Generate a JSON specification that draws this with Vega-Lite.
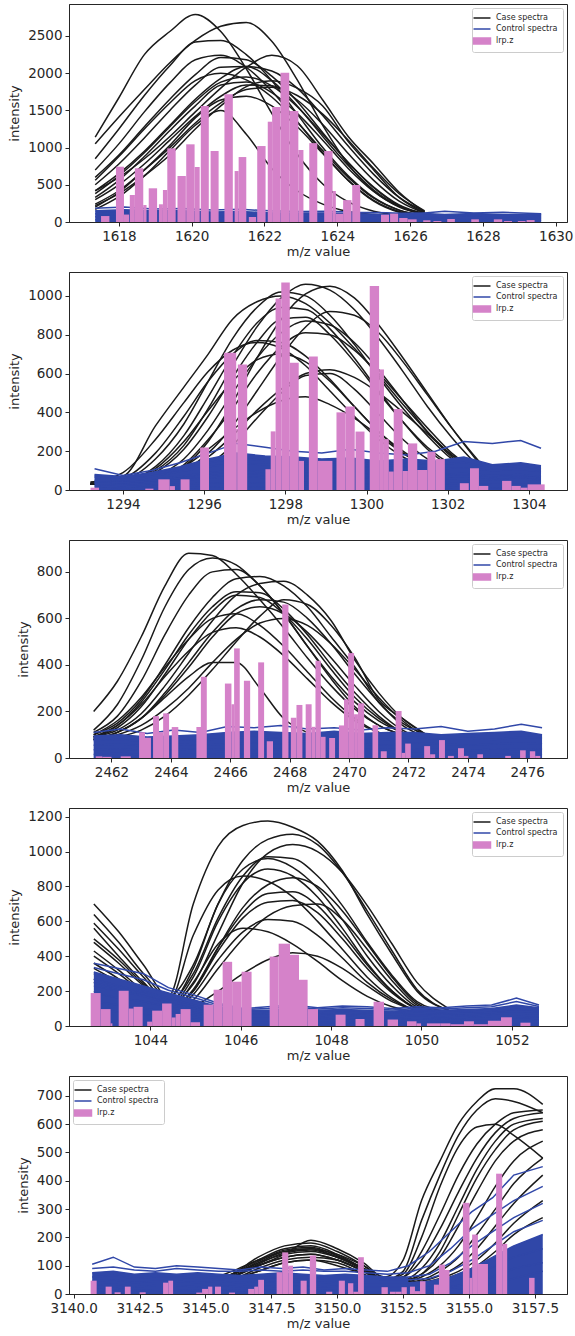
{
"$schema": "https://vega.github.io/schema/vega-lite/v6.json",
"padding": {"left": 8, "top": 3, "right": 0, "bottom": 0},
"spacing": 50,
"bounds": "flush",
"resolve": {"scale": {"color": "independent"}, "legend": {"color": "independent"}},
"config": {
 "view": {"stroke": "#262626", "strokeWidth": 1},
 "axis": {"labelFont": "DejaVu Sans", "labelFontSize": 13.5, "labelColor": "#262626", "titleFont": "DejaVu Sans", "titleFontSize": 13, "titleFontWeight": "normal", "titleColor": "#262626", "tickColor": "#262626", "domainColor": "#262626", "grid": false, "tickSize": 4, "labelFlush": false, "labelOverlap": false},
 "axisX": {"labelPadding": 3, "titlePadding": 3},
 "axisY": {"labelPadding": 3, "titlePadding": 6},
 "legend": {"orient": "top-right", "offset": 4, "title": null, "fillColor": "rgba(255,255,255,0.85)", "strokeColor": "#cccccc", "cornerRadius": 2, "padding": 5, "labelFont": "DejaVu Sans", "labelFontSize": 8, "labelColor": "#262626", "symbolType": "M-2,0H2", "symbolSize": 72, "symbolStrokeWidth": 1.5, "rowPadding": 2, "labelOffset": 9}
},
"datasets": {
"k1": [
{"s":1,"x":1617.35,"y":1140},{"s":1,"x":1618.0,"y":1670},{"s":1,"x":1618.7,"y":2250},{"s":1,"x":1619.4,"y":2560},{"s":1,"x":1620.1,"y":2790},{"s":1,"x":1620.8,"y":2560},{"s":1,"x":1621.5,"y":2060},{"s":1,"x":1622.2,"y":1460},{"s":1,"x":1622.9,"y":910},{"s":1,"x":1623.6,"y":510},{"s":1,"x":1624.3,"y":270},{"s":1,"x":1625.0,"y":145},{"s":1,"x":1625.7,"y":90},{"s":1,"x":1626.4,"y":68},
{"s":2,"x":1617.35,"y":1050},{"s":2,"x":1618.0,"y":1410},{"s":2,"x":1618.7,"y":1780},{"s":2,"x":1619.4,"y":2140},{"s":2,"x":1620.1,"y":2440},{"s":2,"x":1620.8,"y":2630},{"s":2,"x":1621.5,"y":2680},{"s":2,"x":1622.2,"y":2430},{"s":2,"x":1622.9,"y":1910},{"s":2,"x":1623.6,"y":1300},{"s":2,"x":1624.3,"y":775},{"s":2,"x":1625.0,"y":415},{"s":2,"x":1625.7,"y":210},{"s":2,"x":1626.4,"y":115},
{"s":3,"x":1617.35,"y":850},{"s":3,"x":1618.0,"y":1250},{"s":3,"x":1618.7,"y":1700},{"s":3,"x":1619.4,"y":2100},{"s":3,"x":1620.1,"y":2420},{"s":3,"x":1620.8,"y":2440},{"s":3,"x":1621.5,"y":2250},{"s":3,"x":1622.2,"y":1900},{"s":3,"x":1622.9,"y":1450},{"s":3,"x":1623.6,"y":1000},{"s":3,"x":1624.3,"y":620},{"s":3,"x":1625.0,"y":330},{"s":3,"x":1625.7,"y":160},{"s":3,"x":1626.4,"y":90},
{"s":4,"x":1617.35,"y":600},{"s":4,"x":1618.0,"y":900},{"s":4,"x":1618.7,"y":1280},{"s":4,"x":1619.4,"y":1650},{"s":4,"x":1620.1,"y":1980},{"s":4,"x":1620.8,"y":2210},{"s":4,"x":1621.5,"y":2180},{"s":4,"x":1622.2,"y":1960},{"s":4,"x":1622.9,"y":1620},{"s":4,"x":1623.6,"y":1200},{"s":4,"x":1624.3,"y":800},{"s":4,"x":1625.0,"y":470},{"s":4,"x":1625.7,"y":230},{"s":4,"x":1626.4,"y":110},
{"s":5,"x":1617.35,"y":420},{"s":5,"x":1618.0,"y":650},{"s":5,"x":1618.7,"y":950},{"s":5,"x":1619.4,"y":1300},{"s":5,"x":1620.1,"y":1650},{"s":5,"x":1620.8,"y":1930},{"s":5,"x":1621.5,"y":2090},{"s":5,"x":1622.2,"y":2030},{"s":5,"x":1622.9,"y":1800},{"s":5,"x":1623.6,"y":1430},{"s":5,"x":1624.3,"y":1020},{"s":5,"x":1625.0,"y":640},{"s":5,"x":1625.7,"y":330},{"s":5,"x":1626.4,"y":140},
{"s":6,"x":1617.35,"y":560},{"s":6,"x":1618.0,"y":880},{"s":6,"x":1618.7,"y":1250},{"s":6,"x":1619.4,"y":1600},{"s":6,"x":1620.1,"y":1900},{"s":6,"x":1620.8,"y":2000},{"s":6,"x":1621.5,"y":1910},{"s":6,"x":1622.2,"y":1680},{"s":6,"x":1622.9,"y":1340},{"s":6,"x":1623.6,"y":960},{"s":6,"x":1624.3,"y":600},{"s":6,"x":1625.0,"y":320},{"s":6,"x":1625.7,"y":160},{"s":6,"x":1626.4,"y":90},
{"s":7,"x":1617.35,"y":330},{"s":7,"x":1618.0,"y":560},{"s":7,"x":1618.7,"y":880},{"s":7,"x":1619.4,"y":1230},{"s":7,"x":1620.1,"y":1560},{"s":7,"x":1620.8,"y":1840},{"s":7,"x":1621.5,"y":1880},{"s":7,"x":1622.2,"y":1740},{"s":7,"x":1622.9,"y":1460},{"s":7,"x":1623.6,"y":1100},{"s":7,"x":1624.3,"y":720},{"s":7,"x":1625.0,"y":410},{"s":7,"x":1625.7,"y":200},{"s":7,"x":1626.4,"y":100},
{"s":8,"x":1617.35,"y":240},{"s":8,"x":1618.0,"y":420},{"s":8,"x":1618.7,"y":700},{"s":8,"x":1619.4,"y":1000},{"s":8,"x":1620.1,"y":1330},{"s":8,"x":1620.8,"y":1600},{"s":8,"x":1621.5,"y":1780},{"s":8,"x":1622.2,"y":1810},{"s":8,"x":1622.9,"y":1700},{"s":8,"x":1623.6,"y":1450},{"s":8,"x":1624.3,"y":1100},{"s":8,"x":1625.0,"y":720},{"s":8,"x":1625.7,"y":380},{"s":8,"x":1626.4,"y":150},
{"s":9,"x":1617.35,"y":200},{"s":9,"x":1618.0,"y":400},{"s":9,"x":1618.7,"y":700},{"s":9,"x":1619.4,"y":1030},{"s":9,"x":1620.1,"y":1400},{"s":9,"x":1620.8,"y":1640},{"s":9,"x":1621.5,"y":1690},{"s":9,"x":1622.2,"y":1560},{"s":9,"x":1622.9,"y":1280},{"s":9,"x":1623.6,"y":920},{"s":9,"x":1624.3,"y":560},{"s":9,"x":1625.0,"y":280},{"s":9,"x":1625.7,"y":130},{"s":9,"x":1626.4,"y":80},
{"s":10,"x":1617.35,"y":170},{"s":10,"x":1618.0,"y":340},{"s":10,"x":1618.7,"y":620},{"s":10,"x":1619.4,"y":960},{"s":10,"x":1620.1,"y":1300},{"s":10,"x":1620.8,"y":1500},{"s":10,"x":1621.5,"y":1180},{"s":10,"x":1622.2,"y":720},{"s":10,"x":1622.9,"y":420},{"s":10,"x":1623.6,"y":240},{"s":10,"x":1624.3,"y":140},{"s":10,"x":1625.0,"y":100},{"s":10,"x":1625.7,"y":80},{"s":10,"x":1626.4,"y":70},
{"s":11,"x":1617.35,"y":420},{"s":11,"x":1618.0,"y":600},{"s":11,"x":1618.7,"y":850},{"s":11,"x":1619.4,"y":1150},{"s":11,"x":1620.1,"y":1480},{"s":11,"x":1620.8,"y":1800},{"s":11,"x":1621.5,"y":2080},{"s":11,"x":1622.2,"y":2240},{"s":11,"x":1622.9,"y":2100},{"s":11,"x":1623.6,"y":1640},{"s":11,"x":1624.3,"y":1150},{"s":11,"x":1625.0,"y":780},{"s":11,"x":1625.7,"y":400},{"s":11,"x":1626.4,"y":130},
{"s":12,"x":1617.35,"y":220},{"s":12,"x":1618.0,"y":380},{"s":12,"x":1618.7,"y":620},{"s":12,"x":1619.4,"y":900},{"s":12,"x":1620.1,"y":1250},{"s":12,"x":1620.8,"y":1560},{"s":12,"x":1621.5,"y":1820},{"s":12,"x":1622.2,"y":1900},{"s":12,"x":1622.9,"y":1800},{"s":12,"x":1623.6,"y":1560},{"s":12,"x":1624.3,"y":1080},{"s":12,"x":1625.0,"y":700},{"s":12,"x":1625.7,"y":330},{"s":12,"x":1626.4,"y":120},
{"s":13,"x":1617.35,"y":500},{"s":13,"x":1618.0,"y":780},{"s":13,"x":1618.7,"y":1130},{"s":13,"x":1619.4,"y":1500},{"s":13,"x":1620.1,"y":1840},{"s":13,"x":1620.8,"y":2080},{"s":13,"x":1621.5,"y":2090},{"s":13,"x":1622.2,"y":1900},{"s":13,"x":1622.9,"y":1560},{"s":13,"x":1623.6,"y":1150},{"s":13,"x":1624.3,"y":760},{"s":13,"x":1625.0,"y":430},{"s":13,"x":1625.7,"y":210},{"s":13,"x":1626.4,"y":100},
{"s":14,"x":1617.35,"y":380},{"s":14,"x":1618.0,"y":620},{"s":14,"x":1618.7,"y":930},{"s":14,"x":1619.4,"y":1280},{"s":14,"x":1620.1,"y":1620},{"s":14,"x":1620.8,"y":1880},{"s":14,"x":1621.5,"y":1950},{"s":14,"x":1622.2,"y":1830},{"s":14,"x":1622.9,"y":1550},{"s":14,"x":1623.6,"y":1180},{"s":14,"x":1624.3,"y":800},{"s":14,"x":1625.0,"y":460},{"s":14,"x":1625.7,"y":220},{"s":14,"x":1626.4,"y":100},
{"s":15,"x":1617.35,"y":700},{"s":15,"x":1618.0,"y":1050},{"s":15,"x":1618.7,"y":1480},{"s":15,"x":1619.4,"y":1870},{"s":15,"x":1620.1,"y":2180},{"s":15,"x":1620.8,"y":2240},{"s":15,"x":1621.5,"y":2080},{"s":15,"x":1622.2,"y":1760},{"s":15,"x":1622.9,"y":1350},{"s":15,"x":1623.6,"y":930},{"s":15,"x":1624.3,"y":560},{"s":15,"x":1625.0,"y":290},{"s":15,"x":1625.7,"y":140},{"s":15,"x":1626.4,"y":80},
{"s":16,"x":1617.35,"y":300},{"s":16,"x":1618.0,"y":500},{"s":16,"x":1618.7,"y":780},{"s":16,"x":1619.4,"y":1100},{"s":16,"x":1620.1,"y":1420},{"s":16,"x":1620.8,"y":1690},{"s":16,"x":1621.5,"y":1840},{"s":16,"x":1622.2,"y":1830},{"s":16,"x":1622.9,"y":1640},{"s":16,"x":1623.6,"y":1310},{"s":16,"x":1624.3,"y":920},{"s":16,"x":1625.0,"y":560},{"s":16,"x":1625.7,"y":280},{"s":16,"x":1626.4,"y":120}
],
"c1": [
{"s":1,"x":1617.35,"y":185},{"s":1,"x":1618.15,"y":200},{"s":1,"x":1618.95,"y":175},{"s":1,"x":1619.75,"y":180},{"s":1,"x":1620.55,"y":160},{"s":1,"x":1621.35,"y":170},{"s":1,"x":1622.15,"y":150},{"s":1,"x":1622.95,"y":140},{"s":1,"x":1623.75,"y":145},{"s":1,"x":1624.55,"y":130},{"s":1,"x":1625.35,"y":125},{"s":1,"x":1626.15,"y":110},{"s":1,"x":1626.95,"y":145},{"s":1,"x":1627.75,"y":120},{"s":1,"x":1628.55,"y":130},{"s":1,"x":1629.6,"y":110},
{"s":2,"x":1617.35,"y":150},{"s":2,"x":1618.15,"y":165},{"s":2,"x":1618.95,"y":150},{"s":2,"x":1619.75,"y":150},{"s":2,"x":1620.55,"y":135},{"s":2,"x":1621.35,"y":140},{"s":2,"x":1622.15,"y":125},{"s":2,"x":1622.95,"y":120},{"s":2,"x":1623.75,"y":120},{"s":2,"x":1624.55,"y":110},{"s":2,"x":1625.35,"y":100},{"s":2,"x":1626.15,"y":120},{"s":2,"x":1626.95,"y":100},{"s":2,"x":1627.75,"y":115},{"s":2,"x":1628.55,"y":100},{"s":2,"x":1629.6,"y":105},
{"s":3,"x":1617.35,"y":110},{"s":3,"x":1618.15,"y":120},{"s":3,"x":1618.95,"y":105},{"s":3,"x":1619.75,"y":115},{"s":3,"x":1620.55,"y":100},{"s":3,"x":1621.35,"y":95},{"s":3,"x":1622.15,"y":95},{"s":3,"x":1622.95,"y":90},{"s":3,"x":1623.75,"y":85},{"s":3,"x":1624.55,"y":90},{"s":3,"x":1625.35,"y":80},{"s":3,"x":1626.15,"y":85},{"s":3,"x":1626.95,"y":85},{"s":3,"x":1627.75,"y":80},{"s":3,"x":1628.55,"y":90},{"s":3,"x":1629.6,"y":80},
{"s":4,"x":1617.35,"y":70},{"s":4,"x":1618.15,"y":75},{"s":4,"x":1618.95,"y":70},{"s":4,"x":1619.75,"y":65},{"s":4,"x":1620.55,"y":70},{"s":4,"x":1621.35,"y":60},{"s":4,"x":1622.15,"y":65},{"s":4,"x":1622.95,"y":55},{"s":4,"x":1623.75,"y":60},{"s":4,"x":1624.55,"y":55},{"s":4,"x":1625.35,"y":60},{"s":4,"x":1626.15,"y":50},{"s":4,"x":1626.95,"y":55},{"s":4,"x":1627.75,"y":60},{"s":4,"x":1628.55,"y":50},{"s":4,"x":1629.6,"y":55},
{"s":5,"x":1617.35,"y":30},{"s":5,"x":1618.15,"y":35},{"s":5,"x":1618.95,"y":25},{"s":5,"x":1619.75,"y":30},{"s":5,"x":1620.55,"y":30},{"s":5,"x":1621.35,"y":25},{"s":5,"x":1622.15,"y":30},{"s":5,"x":1622.95,"y":25},{"s":5,"x":1623.75,"y":30},{"s":5,"x":1624.55,"y":20},{"s":5,"x":1625.35,"y":25},{"s":5,"x":1626.15,"y":30},{"s":5,"x":1626.95,"y":20},{"s":5,"x":1627.75,"y":25},{"s":5,"x":1628.55,"y":30},{"s":5,"x":1629.6,"y":25}
],
"b1": [
{"x":1617.51,"x2":1617.74,"y":80},{"x":1617.92,"x2":1618.14,"y":743},{"x":1618.14,"x2":1618.28,"y":100},{"x":1618.30,"x2":1618.44,"y":363},{"x":1618.44,"x2":1618.67,"y":722},{"x":1618.67,"x2":1618.76,"y":228},{"x":1618.82,"x2":1619.05,"y":453},{"x":1619.10,"x2":1619.21,"y":238},{"x":1619.21,"x2":1619.33,"y":430},{"x":1619.33,"x2":1619.56,"y":990},{"x":1619.61,"x2":1619.84,"y":618},{"x":1619.85,"x2":1620.08,"y":1044},{"x":1620.08,"x2":1620.22,"y":739},{"x":1620.25,"x2":1620.47,"y":1559},{"x":1620.52,"x2":1620.74,"y":954},{"x":1620.90,"x2":1621.13,"y":1716},{"x":1621.18,"x2":1621.29,"y":685},{"x":1621.29,"x2":1621.50,"y":873},{"x":1621.57,"x2":1621.77,"y":67},{"x":1621.80,"x2":1622.03,"y":1021},{"x":1622.09,"x2":1622.21,"y":1348},{"x":1622.21,"x2":1622.44,"y":1546},{"x":1622.44,"x2":1622.68,"y":2007},{"x":1622.68,"x2":1622.93,"y":1492},{"x":1622.93,"x2":1623.07,"y":968},{"x":1623.23,"x2":1623.45,"y":1060},{"x":1623.64,"x2":1623.87,"y":954},{"x":1623.87,"x2":1623.96,"y":417},{"x":1623.96,"x2":1624.16,"y":110},{"x":1624.16,"x2":1624.39,"y":294},{"x":1624.41,"x2":1624.63,"y":497},{"x":1625.20,"x2":1625.42,"y":98},{"x":1625.45,"x2":1625.67,"y":112},{"x":1625.70,"x2":1625.93,"y":54},{"x":1625.93,"x2":1626.18,"y":36},{"x":1626.36,"x2":1626.56,"y":23},{"x":1626.64,"x2":1626.86,"y":13},{"x":1627.02,"x2":1627.23,"y":40},{"x":1627.68,"x2":1627.89,"y":36},{"x":1628.30,"x2":1628.53,"y":36},{"x":1628.58,"x2":1628.80,"y":13},{"x":1628.96,"x2":1629.17,"y":13},{"x":1629.20,"x2":1629.42,"y":26}
],
"k2": [
{"s":1,"x":1293.2,"y":40},{"s":1,"x":1294.0,"y":70},{"s":1,"x":1294.8,"y":330},{"s":1,"x":1295.5,"y":530},{"s":1,"x":1296.1,"y":700},{"s":1,"x":1296.7,"y":880},{"s":1,"x":1297.3,"y":970},{"s":1,"x":1297.9,"y":1000},{"s":1,"x":1298.5,"y":960},{"s":1,"x":1299.1,"y":860},{"s":1,"x":1299.7,"y":730},{"s":1,"x":1300.3,"y":590},{"s":1,"x":1300.9,"y":440},{"s":1,"x":1301.5,"y":300},{"s":1,"x":1302.1,"y":180},{"s":1,"x":1302.8,"y":80},
{"s":2,"x":1293.2,"y":30},{"s":2,"x":1294.0,"y":40},{"s":2,"x":1294.8,"y":100},{"s":2,"x":1295.5,"y":230},{"s":2,"x":1296.1,"y":420},{"s":2,"x":1296.7,"y":640},{"s":2,"x":1297.3,"y":840},{"s":2,"x":1297.9,"y":990},{"s":2,"x":1298.5,"y":1060},{"s":2,"x":1299.1,"y":1030},{"s":2,"x":1299.7,"y":930},{"s":2,"x":1300.3,"y":780},{"s":2,"x":1300.9,"y":610},{"s":2,"x":1301.5,"y":430},{"s":2,"x":1302.1,"y":270},{"s":2,"x":1302.8,"y":110},
{"s":3,"x":1293.2,"y":30},{"s":3,"x":1294.0,"y":30},{"s":3,"x":1294.8,"y":60},{"s":3,"x":1295.5,"y":120},{"s":3,"x":1296.1,"y":250},{"s":3,"x":1296.7,"y":450},{"s":3,"x":1297.3,"y":680},{"s":3,"x":1297.9,"y":880},{"s":3,"x":1298.5,"y":1010},{"s":3,"x":1299.1,"y":1050},{"s":3,"x":1299.7,"y":990},{"s":3,"x":1300.3,"y":850},{"s":3,"x":1300.9,"y":680},{"s":3,"x":1301.5,"y":500},{"s":3,"x":1302.1,"y":320},{"s":3,"x":1302.8,"y":130},
{"s":4,"x":1293.2,"y":30},{"s":4,"x":1294.0,"y":40},{"s":4,"x":1294.8,"y":90},{"s":4,"x":1295.5,"y":210},{"s":4,"x":1296.1,"y":380},{"s":4,"x":1296.7,"y":580},{"s":4,"x":1297.3,"y":760},{"s":4,"x":1297.9,"y":880},{"s":4,"x":1298.5,"y":890},{"s":4,"x":1299.1,"y":800},{"s":4,"x":1299.7,"y":660},{"s":4,"x":1300.3,"y":500},{"s":4,"x":1300.9,"y":350},{"s":4,"x":1301.5,"y":220},{"s":4,"x":1302.1,"y":130},{"s":4,"x":1302.8,"y":70},
{"s":5,"x":1293.2,"y":30},{"s":5,"x":1294.0,"y":30},{"s":5,"x":1294.8,"y":60},{"s":5,"x":1295.5,"y":130},{"s":5,"x":1296.1,"y":260},{"s":5,"x":1296.7,"y":420},{"s":5,"x":1297.3,"y":600},{"s":5,"x":1297.9,"y":740},{"s":5,"x":1298.5,"y":810},{"s":5,"x":1299.1,"y":800},{"s":5,"x":1299.7,"y":720},{"s":5,"x":1300.3,"y":600},{"s":5,"x":1300.9,"y":460},{"s":5,"x":1301.5,"y":320},{"s":5,"x":1302.1,"y":190},{"s":5,"x":1302.8,"y":90},
{"s":6,"x":1293.2,"y":30},{"s":6,"x":1294.0,"y":40},{"s":6,"x":1294.8,"y":110},{"s":6,"x":1295.5,"y":250},{"s":6,"x":1296.1,"y":410},{"s":6,"x":1296.7,"y":560},{"s":6,"x":1297.3,"y":670},{"s":6,"x":1297.9,"y":700},{"s":6,"x":1298.5,"y":660},{"s":6,"x":1299.1,"y":560},{"s":6,"x":1299.7,"y":430},{"s":6,"x":1300.3,"y":300},{"s":6,"x":1300.9,"y":200},{"s":6,"x":1301.5,"y":120},{"s":6,"x":1302.1,"y":80},{"s":6,"x":1302.8,"y":60},
{"s":7,"x":1293.2,"y":30},{"s":7,"x":1294.0,"y":30},{"s":7,"x":1294.8,"y":50},{"s":7,"x":1295.5,"y":90},{"s":7,"x":1296.1,"y":170},{"s":7,"x":1296.7,"y":280},{"s":7,"x":1297.3,"y":410},{"s":7,"x":1297.9,"y":520},{"s":7,"x":1298.5,"y":600},{"s":7,"x":1299.1,"y":620},{"s":7,"x":1299.7,"y":580},{"s":7,"x":1300.3,"y":500},{"s":7,"x":1300.9,"y":400},{"s":7,"x":1301.5,"y":290},{"s":7,"x":1302.1,"y":180},{"s":7,"x":1302.8,"y":90},
{"s":8,"x":1293.2,"y":30},{"s":8,"x":1294.0,"y":30},{"s":8,"x":1294.8,"y":60},{"s":8,"x":1295.5,"y":120},{"s":8,"x":1296.1,"y":210},{"s":8,"x":1296.7,"y":310},{"s":8,"x":1297.3,"y":400},{"s":8,"x":1297.9,"y":460},{"s":8,"x":1298.5,"y":480},{"s":8,"x":1299.1,"y":440},{"s":8,"x":1299.7,"y":370},{"s":8,"x":1300.3,"y":280},{"s":8,"x":1300.9,"y":190},{"s":8,"x":1301.5,"y":120},{"s":8,"x":1302.1,"y":80},{"s":8,"x":1302.8,"y":60},
{"s":9,"x":1293.2,"y":30},{"s":9,"x":1294.0,"y":30},{"s":9,"x":1294.8,"y":50},{"s":9,"x":1295.5,"y":100},{"s":9,"x":1296.1,"y":190},{"s":9,"x":1296.7,"y":330},{"s":9,"x":1297.3,"y":510},{"s":9,"x":1297.9,"y":690},{"s":9,"x":1298.5,"y":840},{"s":9,"x":1299.1,"y":920},{"s":9,"x":1299.7,"y":900},{"s":9,"x":1300.3,"y":810},{"s":9,"x":1300.9,"y":660},{"s":9,"x":1301.5,"y":490},{"s":9,"x":1302.1,"y":320},{"s":9,"x":1302.8,"y":140},
{"s":10,"x":1293.2,"y":40},{"s":10,"x":1294.0,"y":90},{"s":10,"x":1294.8,"y":260},{"s":10,"x":1295.5,"y":450},{"s":10,"x":1296.1,"y":610},{"s":10,"x":1296.7,"y":720},{"s":10,"x":1297.3,"y":760},{"s":10,"x":1297.9,"y":730},{"s":10,"x":1298.5,"y":640},{"s":10,"x":1299.1,"y":510},{"s":10,"x":1299.7,"y":380},{"s":10,"x":1300.3,"y":260},{"s":10,"x":1300.9,"y":170},{"s":10,"x":1301.5,"y":110},{"s":10,"x":1302.1,"y":80},{"s":10,"x":1302.8,"y":60},
{"s":11,"x":1293.2,"y":30},{"s":11,"x":1294.0,"y":50},{"s":11,"x":1294.8,"y":160},{"s":11,"x":1295.5,"y":340},{"s":11,"x":1296.1,"y":560},{"s":11,"x":1296.7,"y":780},{"s":11,"x":1297.3,"y":940},{"s":11,"x":1297.9,"y":1020},{"s":11,"x":1298.5,"y":1000},{"s":11,"x":1299.1,"y":900},{"s":11,"x":1299.7,"y":750},{"s":11,"x":1300.3,"y":580},{"s":11,"x":1300.9,"y":420},{"s":11,"x":1301.5,"y":280},{"s":11,"x":1302.1,"y":160},{"s":11,"x":1302.8,"y":80},
{"s":12,"x":1293.2,"y":30},{"s":12,"x":1294.0,"y":30},{"s":12,"x":1294.8,"y":40},{"s":12,"x":1295.5,"y":70},{"s":12,"x":1296.1,"y":130},{"s":12,"x":1296.7,"y":230},{"s":12,"x":1297.3,"y":370},{"s":12,"x":1297.9,"y":500},{"s":12,"x":1298.5,"y":590},{"s":12,"x":1299.1,"y":600},{"s":12,"x":1299.7,"y":520},{"s":12,"x":1300.3,"y":390},{"s":12,"x":1300.9,"y":260},{"s":12,"x":1301.5,"y":160},{"s":12,"x":1302.1,"y":100},{"s":12,"x":1302.8,"y":60},
{"s":13,"x":1293.2,"y":30},{"s":13,"x":1294.0,"y":40},{"s":13,"x":1294.8,"y":120},{"s":13,"x":1295.5,"y":280},{"s":13,"x":1296.1,"y":480},{"s":13,"x":1296.7,"y":690},{"s":13,"x":1297.3,"y":860},{"s":13,"x":1297.9,"y":940},{"s":13,"x":1298.5,"y":930},{"s":13,"x":1299.1,"y":830},{"s":13,"x":1299.7,"y":680},{"s":13,"x":1300.3,"y":510},{"s":13,"x":1300.9,"y":350},{"s":13,"x":1301.5,"y":210},{"s":13,"x":1302.1,"y":120},{"s":13,"x":1302.8,"y":70},
{"s":14,"x":1293.2,"y":30},{"s":14,"x":1294.0,"y":30},{"s":14,"x":1294.8,"y":70},{"s":14,"x":1295.5,"y":160},{"s":14,"x":1296.1,"y":310},{"s":14,"x":1296.7,"y":500},{"s":14,"x":1297.3,"y":680},{"s":14,"x":1297.9,"y":810},{"s":14,"x":1298.5,"y":870},{"s":14,"x":1299.1,"y":850},{"s":14,"x":1299.7,"y":760},{"s":14,"x":1300.3,"y":620},{"s":14,"x":1300.9,"y":460},{"s":14,"x":1301.5,"y":300},{"s":14,"x":1302.1,"y":170},{"s":14,"x":1302.8,"y":80},
{"s":15,"x":1293.2,"y":35},{"s":15,"x":1294.0,"y":60},{"s":15,"x":1294.8,"y":190},{"s":15,"x":1295.5,"y":380},{"s":15,"x":1296.1,"y":560},{"s":15,"x":1296.7,"y":700},{"s":15,"x":1297.3,"y":770},{"s":15,"x":1297.9,"y":760},{"s":15,"x":1298.5,"y":690},{"s":15,"x":1299.1,"y":570},{"s":15,"x":1299.7,"y":430},{"s":15,"x":1300.3,"y":300},{"s":15,"x":1300.9,"y":190},{"s":15,"x":1301.5,"y":120},{"s":15,"x":1302.1,"y":80},{"s":15,"x":1302.8,"y":60}
],
"c2": [
{"s":1,"x":1293.3,"y":110},{"s":1,"x":1294.0,"y":75},{"s":1,"x":1294.7,"y":100},{"s":1,"x":1295.4,"y":140},{"s":1,"x":1296.1,"y":190},{"s":1,"x":1296.8,"y":240},{"s":1,"x":1297.5,"y":220},{"s":1,"x":1298.2,"y":200},{"s":1,"x":1298.9,"y":190},{"s":1,"x":1299.6,"y":210},{"s":1,"x":1300.3,"y":190},{"s":1,"x":1301.0,"y":180},{"s":1,"x":1301.7,"y":200},{"s":1,"x":1302.4,"y":250},{"s":1,"x":1303.1,"y":240},{"s":1,"x":1303.8,"y":255},{"s":1,"x":1304.3,"y":215},
{"s":2,"x":1293.3,"y":80},{"s":2,"x":1294.0,"y":70},{"s":2,"x":1294.7,"y":90},{"s":2,"x":1295.4,"y":120},{"s":2,"x":1296.1,"y":160},{"s":2,"x":1296.8,"y":190},{"s":2,"x":1297.5,"y":175},{"s":2,"x":1298.2,"y":170},{"s":2,"x":1298.9,"y":160},{"s":2,"x":1299.6,"y":165},{"s":2,"x":1300.3,"y":150},{"s":2,"x":1301.0,"y":160},{"s":2,"x":1301.7,"y":150},{"s":2,"x":1302.4,"y":170},{"s":2,"x":1303.1,"y":130},{"s":2,"x":1303.8,"y":140},{"s":2,"x":1304.3,"y":125},
{"s":3,"x":1293.3,"y":65},{"s":3,"x":1294.0,"y":60},{"s":3,"x":1294.7,"y":70},{"s":3,"x":1295.4,"y":95},{"s":3,"x":1296.1,"y":120},{"s":3,"x":1296.8,"y":140},{"s":3,"x":1297.5,"y":130},{"s":3,"x":1298.2,"y":135},{"s":3,"x":1298.9,"y":120},{"s":3,"x":1299.6,"y":125},{"s":3,"x":1300.3,"y":115},{"s":3,"x":1301.0,"y":120},{"s":3,"x":1301.7,"y":110},{"s":3,"x":1302.4,"y":115},{"s":3,"x":1303.1,"y":100},{"s":3,"x":1303.8,"y":105},{"s":3,"x":1304.3,"y":95},
{"s":4,"x":1293.3,"y":50},{"s":4,"x":1294.0,"y":45},{"s":4,"x":1294.7,"y":55},{"s":4,"x":1295.4,"y":70},{"s":4,"x":1296.1,"y":90},{"s":4,"x":1296.8,"y":100},{"s":4,"x":1297.5,"y":95},{"s":4,"x":1298.2,"y":100},{"s":4,"x":1298.9,"y":90},{"s":4,"x":1299.6,"y":95},{"s":4,"x":1300.3,"y":85},{"s":4,"x":1301.0,"y":90},{"s":4,"x":1301.7,"y":80},{"s":4,"x":1302.4,"y":85},{"s":4,"x":1303.1,"y":75},{"s":4,"x":1303.8,"y":80},{"s":4,"x":1304.3,"y":70},
{"s":5,"x":1293.3,"y":35},{"s":5,"x":1294.0,"y":30},{"s":5,"x":1294.7,"y":40},{"s":5,"x":1295.4,"y":50},{"s":5,"x":1296.1,"y":60},{"s":5,"x":1296.8,"y":70},{"s":5,"x":1297.5,"y":65},{"s":5,"x":1298.2,"y":70},{"s":5,"x":1298.9,"y":60},{"s":5,"x":1299.6,"y":65},{"s":5,"x":1300.3,"y":60},{"s":5,"x":1301.0,"y":60},{"s":5,"x":1301.7,"y":55},{"s":5,"x":1302.4,"y":60},{"s":5,"x":1303.1,"y":50},{"s":5,"x":1303.8,"y":55},{"s":5,"x":1304.3,"y":50},
{"s":6,"x":1293.3,"y":20},{"s":6,"x":1294.0,"y":15},{"s":6,"x":1294.7,"y":25},{"s":6,"x":1295.4,"y":30},{"s":6,"x":1296.1,"y":35},{"s":6,"x":1296.8,"y":40},{"s":6,"x":1297.5,"y":35},{"s":6,"x":1298.2,"y":40},{"s":6,"x":1298.9,"y":35},{"s":6,"x":1299.6,"y":35},{"s":6,"x":1300.3,"y":30},{"s":6,"x":1301.0,"y":35},{"s":6,"x":1301.7,"y":30},{"s":6,"x":1302.4,"y":35},{"s":6,"x":1303.1,"y":30},{"s":6,"x":1303.8,"y":30},{"s":6,"x":1304.3,"y":25},
{"s":7,"x":1293.3,"y":8},{"s":7,"x":1294.0,"y":5},{"s":7,"x":1294.7,"y":10},{"s":7,"x":1295.4,"y":12},{"s":7,"x":1296.1,"y":15},{"s":7,"x":1296.8,"y":18},{"s":7,"x":1297.5,"y":15},{"s":7,"x":1298.2,"y":20},{"s":7,"x":1298.9,"y":15},{"s":7,"x":1299.6,"y":15},{"s":7,"x":1300.3,"y":12},{"s":7,"x":1301.0,"y":15},{"s":7,"x":1301.7,"y":12},{"s":7,"x":1302.4,"y":15},{"s":7,"x":1303.1,"y":10},{"s":7,"x":1303.8,"y":12},{"s":7,"x":1304.3,"y":10},
{"s":8,"x":1293.3,"y":72},{"s":8,"x":1294.0,"y":65},{"s":8,"x":1294.7,"y":80},{"s":8,"x":1295.4,"y":108},{"s":8,"x":1296.1,"y":140},{"s":8,"x":1296.8,"y":165},{"s":8,"x":1297.5,"y":152},{"s":8,"x":1298.2,"y":152},{"s":8,"x":1298.9,"y":140},{"s":8,"x":1299.6,"y":145},{"s":8,"x":1300.3,"y":132},{"s":8,"x":1301.0,"y":140},{"s":8,"x":1301.7,"y":130},{"s":8,"x":1302.4,"y":142},{"s":8,"x":1303.1,"y":115},{"s":8,"x":1303.8,"y":122},{"s":8,"x":1304.3,"y":110},
{"s":9,"x":1293.3,"y":42},{"s":9,"x":1294.0,"y":38},{"s":9,"x":1294.7,"y":48},{"s":9,"x":1295.4,"y":60},{"s":9,"x":1296.1,"y":75},{"s":9,"x":1296.8,"y":85},{"s":9,"x":1297.5,"y":80},{"s":9,"x":1298.2,"y":85},{"s":9,"x":1298.9,"y":75},{"s":9,"x":1299.6,"y":80},{"s":9,"x":1300.3,"y":72},{"s":9,"x":1301.0,"y":75},{"s":9,"x":1301.7,"y":68},{"s":9,"x":1302.4,"y":72},{"s":9,"x":1303.1,"y":62},{"s":9,"x":1303.8,"y":68},{"s":9,"x":1304.3,"y":60}
],
"b2": [
{"x":1293.20,"x2":1293.41,"y":12},{"x":1294.55,"x2":1294.75,"y":7},{"x":1294.87,"x2":1295.15,"y":55},{"x":1295.15,"x2":1295.28,"y":20},{"x":1295.42,"x2":1295.64,"y":55},{"x":1295.90,"x2":1296.12,"y":219},{"x":1296.49,"x2":1296.79,"y":707},{"x":1296.79,"x2":1296.83,"y":314},{"x":1296.83,"x2":1297.06,"y":647},{"x":1297.51,"x2":1297.64,"y":107},{"x":1297.64,"x2":1297.76,"y":302},{"x":1297.76,"x2":1297.90,"y":987},{"x":1297.90,"x2":1298.11,"y":1069},{"x":1298.11,"x2":1298.33,"y":655},{"x":1298.33,"x2":1298.46,"y":150},{"x":1298.58,"x2":1298.80,"y":688},{"x":1298.80,"x2":1299.16,"y":150},{"x":1299.26,"x2":1299.48,"y":400},{"x":1299.48,"x2":1299.71,"y":430},{"x":1299.73,"x2":1299.95,"y":301},{"x":1300.08,"x2":1300.31,"y":1051},{"x":1300.31,"x2":1300.43,"y":621},{"x":1300.43,"x2":1300.55,"y":262},{"x":1300.55,"x2":1300.67,"y":95},{"x":1300.67,"x2":1300.89,"y":417},{"x":1300.89,"x2":1301.02,"y":98},{"x":1301.02,"x2":1301.25,"y":240},{"x":1301.25,"x2":1301.50,"y":103},{"x":1301.50,"x2":1301.70,"y":197},{"x":1301.70,"x2":1301.93,"y":159},{"x":1302.30,"x2":1302.52,"y":35},{"x":1302.55,"x2":1302.77,"y":112},{"x":1302.77,"x2":1303.00,"y":21},{"x":1303.34,"x2":1303.57,"y":47},{"x":1303.57,"x2":1303.80,"y":21},{"x":1303.80,"x2":1303.97,"y":12},{"x":1303.97,"x2":1304.39,"y":29}
],
"k3": [
{"s":1,"x":2461.4,"y":200},{"s":1,"x":2462.2,"y":330},{"s":1,"x":2463.0,"y":520},{"s":1,"x":2463.8,"y":740},{"s":1,"x":2464.6,"y":880},{"s":1,"x":2465.4,"y":870},{"s":1,"x":2466.2,"y":790},{"s":1,"x":2467.0,"y":680},{"s":1,"x":2467.8,"y":560},{"s":1,"x":2468.6,"y":430},{"s":1,"x":2469.4,"y":310},{"s":1,"x":2470.2,"y":210},{"s":1,"x":2471.0,"y":140},{"s":1,"x":2471.8,"y":100},{"s":1,"x":2472.6,"y":80},
{"s":2,"x":2461.4,"y":120},{"s":2,"x":2462.2,"y":230},{"s":2,"x":2463.0,"y":420},{"s":2,"x":2463.8,"y":650},{"s":2,"x":2464.6,"y":810},{"s":2,"x":2465.4,"y":860},{"s":2,"x":2466.2,"y":830},{"s":2,"x":2467.0,"y":740},{"s":2,"x":2467.8,"y":620},{"s":2,"x":2468.6,"y":480},{"s":2,"x":2469.4,"y":350},{"s":2,"x":2470.2,"y":240},{"s":2,"x":2471.0,"y":160},{"s":2,"x":2471.8,"y":110},{"s":2,"x":2472.6,"y":80},
{"s":3,"x":2461.4,"y":100},{"s":3,"x":2462.2,"y":150},{"s":3,"x":2463.0,"y":250},{"s":3,"x":2463.8,"y":400},{"s":3,"x":2464.6,"y":560},{"s":3,"x":2465.4,"y":690},{"s":3,"x":2466.2,"y":770},{"s":3,"x":2467.0,"y":780},{"s":3,"x":2467.8,"y":740},{"s":3,"x":2468.6,"y":650},{"s":3,"x":2469.4,"y":520},{"s":3,"x":2470.2,"y":390},{"s":3,"x":2471.0,"y":240},{"s":3,"x":2471.8,"y":150},{"s":3,"x":2472.6,"y":100},
{"s":4,"x":2461.4,"y":90},{"s":4,"x":2462.2,"y":120},{"s":4,"x":2463.0,"y":190},{"s":4,"x":2463.8,"y":310},{"s":4,"x":2464.6,"y":450},{"s":4,"x":2465.4,"y":590},{"s":4,"x":2466.2,"y":700},{"s":4,"x":2467.0,"y":750},{"s":4,"x":2467.8,"y":760},{"s":4,"x":2468.6,"y":700},{"s":4,"x":2469.4,"y":590},{"s":4,"x":2470.2,"y":420},{"s":4,"x":2471.0,"y":280},{"s":4,"x":2471.8,"y":170},{"s":4,"x":2472.6,"y":100},
{"s":5,"x":2461.4,"y":90},{"s":5,"x":2462.2,"y":130},{"s":5,"x":2463.0,"y":220},{"s":5,"x":2463.8,"y":360},{"s":5,"x":2464.6,"y":510},{"s":5,"x":2465.4,"y":630},{"s":5,"x":2466.2,"y":700},{"s":5,"x":2467.0,"y":690},{"s":5,"x":2467.8,"y":620},{"s":5,"x":2468.6,"y":510},{"s":5,"x":2469.4,"y":380},{"s":5,"x":2470.2,"y":260},{"s":5,"x":2471.0,"y":170},{"s":5,"x":2471.8,"y":110},{"s":5,"x":2472.6,"y":80},
{"s":6,"x":2461.4,"y":80},{"s":6,"x":2462.2,"y":110},{"s":6,"x":2463.0,"y":170},{"s":6,"x":2463.8,"y":270},{"s":6,"x":2464.6,"y":390},{"s":6,"x":2465.4,"y":520},{"s":6,"x":2466.2,"y":620},{"s":6,"x":2467.0,"y":650},{"s":6,"x":2467.8,"y":620},{"s":6,"x":2468.6,"y":540},{"s":6,"x":2469.4,"y":430},{"s":6,"x":2470.2,"y":310},{"s":6,"x":2471.0,"y":200},{"s":6,"x":2471.8,"y":120},{"s":6,"x":2472.6,"y":80},
{"s":7,"x":2461.4,"y":80},{"s":7,"x":2462.2,"y":100},{"s":7,"x":2463.0,"y":140},{"s":7,"x":2463.8,"y":210},{"s":7,"x":2464.6,"y":300},{"s":7,"x":2465.4,"y":410},{"s":7,"x":2466.2,"y":510},{"s":7,"x":2467.0,"y":580},{"s":7,"x":2467.8,"y":600},{"s":7,"x":2468.6,"y":570},{"s":7,"x":2469.4,"y":490},{"s":7,"x":2470.2,"y":380},{"s":7,"x":2471.0,"y":260},{"s":7,"x":2471.8,"y":160},{"s":7,"x":2472.6,"y":90},
{"s":8,"x":2461.4,"y":90},{"s":8,"x":2462.2,"y":140},{"s":8,"x":2463.0,"y":230},{"s":8,"x":2463.8,"y":350},{"s":8,"x":2464.6,"y":460},{"s":8,"x":2465.4,"y":540},{"s":8,"x":2466.2,"y":560},{"s":8,"x":2467.0,"y":520},{"s":8,"x":2467.8,"y":440},{"s":8,"x":2468.6,"y":340},{"s":8,"x":2469.4,"y":240},{"s":8,"x":2470.2,"y":160},{"s":8,"x":2471.0,"y":110},{"s":8,"x":2471.8,"y":90},{"s":8,"x":2472.6,"y":80},
{"s":9,"x":2461.4,"y":80},{"s":9,"x":2462.2,"y":110},{"s":9,"x":2463.0,"y":170},{"s":9,"x":2463.8,"y":260},{"s":9,"x":2464.6,"y":350},{"s":9,"x":2465.4,"y":410},{"s":9,"x":2466.2,"y":410},{"s":9,"x":2467.0,"y":300},{"s":9,"x":2467.8,"y":170},{"s":9,"x":2468.6,"y":110},{"s":9,"x":2469.4,"y":90},{"s":9,"x":2470.2,"y":80},{"s":9,"x":2471.0,"y":80},{"s":9,"x":2471.8,"y":80},{"s":9,"x":2472.6,"y":80},
{"s":10,"x":2461.4,"y":80},{"s":10,"x":2462.2,"y":90},{"s":10,"x":2463.0,"y":120},{"s":10,"x":2463.8,"y":180},{"s":10,"x":2464.6,"y":270},{"s":10,"x":2465.4,"y":380},{"s":10,"x":2466.2,"y":500},{"s":10,"x":2467.0,"y":610},{"s":10,"x":2467.8,"y":680},{"s":10,"x":2468.6,"y":660},{"s":10,"x":2469.4,"y":570},{"s":10,"x":2470.2,"y":430},{"s":10,"x":2471.0,"y":250},{"s":10,"x":2471.8,"y":170},{"s":10,"x":2472.6,"y":100},
{"s":11,"x":2461.4,"y":110},{"s":11,"x":2462.2,"y":180},{"s":11,"x":2463.0,"y":330},{"s":11,"x":2463.8,"y":530},{"s":11,"x":2464.6,"y":700},{"s":11,"x":2465.4,"y":800},{"s":11,"x":2466.2,"y":810},{"s":11,"x":2467.0,"y":740},{"s":11,"x":2467.8,"y":620},{"s":11,"x":2468.6,"y":480},{"s":11,"x":2469.4,"y":340},{"s":11,"x":2470.2,"y":220},{"s":11,"x":2471.0,"y":140},{"s":11,"x":2471.8,"y":100},{"s":11,"x":2472.6,"y":80},
{"s":12,"x":2461.4,"y":90},{"s":12,"x":2462.2,"y":140},{"s":12,"x":2463.0,"y":240},{"s":12,"x":2463.8,"y":380},{"s":12,"x":2464.6,"y":530},{"s":12,"x":2465.4,"y":650},{"s":12,"x":2466.2,"y":715},{"s":12,"x":2467.0,"y":710},{"s":12,"x":2467.8,"y":640},{"s":12,"x":2468.6,"y":530},{"s":12,"x":2469.4,"y":400},{"s":12,"x":2470.2,"y":280},{"s":12,"x":2471.0,"y":180},{"s":12,"x":2471.8,"y":110},{"s":12,"x":2472.6,"y":80},
{"s":13,"x":2461.4,"y":80},{"s":13,"x":2462.2,"y":110},{"s":13,"x":2463.0,"y":170},{"s":13,"x":2463.8,"y":280},{"s":13,"x":2464.6,"y":410},{"s":13,"x":2465.4,"y":540},{"s":13,"x":2466.2,"y":640},{"s":13,"x":2467.0,"y":680},{"s":13,"x":2467.8,"y":670},{"s":13,"x":2468.6,"y":600},{"s":13,"x":2469.4,"y":490},{"s":13,"x":2470.2,"y":360},{"s":13,"x":2471.0,"y":240},{"s":13,"x":2471.8,"y":140},{"s":13,"x":2472.6,"y":90},
{"s":14,"x":2461.4,"y":100},{"s":14,"x":2462.2,"y":160},{"s":14,"x":2463.0,"y":260},{"s":14,"x":2463.8,"y":390},{"s":14,"x":2464.6,"y":510},{"s":14,"x":2465.4,"y":600},{"s":14,"x":2466.2,"y":620},{"s":14,"x":2467.0,"y":570},{"s":14,"x":2467.8,"y":480},{"s":14,"x":2468.6,"y":370},{"s":14,"x":2469.4,"y":260},{"s":14,"x":2470.2,"y":170},{"s":14,"x":2471.0,"y":110},{"s":14,"x":2471.8,"y":90},{"s":14,"x":2472.6,"y":80}
],
"c3": [
{"s":1,"x":2461.4,"y":110},{"s":1,"x":2462.3,"y":125},{"s":1,"x":2463.2,"y":105},{"s":1,"x":2464.1,"y":120},{"s":1,"x":2465.0,"y":110},{"s":1,"x":2465.9,"y":135},{"s":1,"x":2466.8,"y":130},{"s":1,"x":2467.7,"y":140},{"s":1,"x":2468.6,"y":125},{"s":1,"x":2469.5,"y":130},{"s":1,"x":2470.4,"y":120},{"s":1,"x":2471.3,"y":130},{"s":1,"x":2472.2,"y":125},{"s":1,"x":2473.1,"y":135},{"s":1,"x":2474.0,"y":115},{"s":1,"x":2474.9,"y":125},{"s":1,"x":2475.8,"y":145},{"s":1,"x":2476.5,"y":130},
{"s":2,"x":2461.4,"y":95},{"s":2,"x":2462.3,"y":100},{"s":2,"x":2463.2,"y":90},{"s":2,"x":2464.1,"y":95},{"s":2,"x":2465.0,"y":100},{"s":2,"x":2465.9,"y":110},{"s":2,"x":2466.8,"y":115},{"s":2,"x":2467.7,"y":110},{"s":2,"x":2468.6,"y":105},{"s":2,"x":2469.5,"y":115},{"s":2,"x":2470.4,"y":105},{"s":2,"x":2471.3,"y":110},{"s":2,"x":2472.2,"y":110},{"s":2,"x":2473.1,"y":100},{"s":2,"x":2474.0,"y":105},{"s":2,"x":2474.9,"y":110},{"s":2,"x":2475.8,"y":115},{"s":2,"x":2476.5,"y":100},
{"s":3,"x":2461.4,"y":75},{"s":3,"x":2462.3,"y":80},{"s":3,"x":2463.2,"y":70},{"s":3,"x":2464.1,"y":80},{"s":3,"x":2465.0,"y":75},{"s":3,"x":2465.9,"y":85},{"s":3,"x":2466.8,"y":90},{"s":3,"x":2467.7,"y":85},{"s":3,"x":2468.6,"y":80},{"s":3,"x":2469.5,"y":90},{"s":3,"x":2470.4,"y":85},{"s":3,"x":2471.3,"y":80},{"s":3,"x":2472.2,"y":90},{"s":3,"x":2473.1,"y":80},{"s":3,"x":2474.0,"y":85},{"s":3,"x":2474.9,"y":80},{"s":3,"x":2475.8,"y":90},{"s":3,"x":2476.5,"y":85},
{"s":4,"x":2461.4,"y":55},{"s":4,"x":2462.3,"y":60},{"s":4,"x":2463.2,"y":50},{"s":4,"x":2464.1,"y":60},{"s":4,"x":2465.0,"y":55},{"s":4,"x":2465.9,"y":60},{"s":4,"x":2466.8,"y":65},{"s":4,"x":2467.7,"y":60},{"s":4,"x":2468.6,"y":65},{"s":4,"x":2469.5,"y":60},{"s":4,"x":2470.4,"y":60},{"s":4,"x":2471.3,"y":55},{"s":4,"x":2472.2,"y":65},{"s":4,"x":2473.1,"y":60},{"s":4,"x":2474.0,"y":55},{"s":4,"x":2474.9,"y":60},{"s":4,"x":2475.8,"y":65},{"s":4,"x":2476.5,"y":60},
{"s":5,"x":2461.4,"y":35},{"s":5,"x":2462.3,"y":40},{"s":5,"x":2463.2,"y":30},{"s":5,"x":2464.1,"y":35},{"s":5,"x":2465.0,"y":40},{"s":5,"x":2465.9,"y":35},{"s":5,"x":2466.8,"y":40},{"s":5,"x":2467.7,"y":35},{"s":5,"x":2468.6,"y":40},{"s":5,"x":2469.5,"y":35},{"s":5,"x":2470.4,"y":40},{"s":5,"x":2471.3,"y":35},{"s":5,"x":2472.2,"y":40},{"s":5,"x":2473.1,"y":35},{"s":5,"x":2474.0,"y":30},{"s":5,"x":2474.9,"y":40},{"s":5,"x":2475.8,"y":35},{"s":5,"x":2476.5,"y":40},
{"s":6,"x":2461.4,"y":15},{"s":6,"x":2462.3,"y":20},{"s":6,"x":2463.2,"y":12},{"s":6,"x":2464.1,"y":18},{"s":6,"x":2465.0,"y":15},{"s":6,"x":2465.9,"y":20},{"s":6,"x":2466.8,"y":15},{"s":6,"x":2467.7,"y":18},{"s":6,"x":2468.6,"y":20},{"s":6,"x":2469.5,"y":15},{"s":6,"x":2470.4,"y":18},{"s":6,"x":2471.3,"y":15},{"s":6,"x":2472.2,"y":20},{"s":6,"x":2473.1,"y":15},{"s":6,"x":2474.0,"y":18},{"s":6,"x":2474.9,"y":15},{"s":6,"x":2475.8,"y":20},{"s":6,"x":2476.5,"y":15}
],
"b3": [
{"x":2461.47,"x2":2461.69,"y":7},{"x":2461.69,"x2":2462.00,"y":5},{"x":2462.31,"x2":2462.65,"y":7},{"x":2462.93,"x2":2463.13,"y":111},{"x":2463.13,"x2":2463.33,"y":87},{"x":2463.40,"x2":2463.60,"y":180},{"x":2463.60,"x2":2463.74,"y":111},{"x":2463.74,"x2":2463.94,"y":192},{"x":2464.03,"x2":2464.25,"y":133},{"x":2464.86,"x2":2465.04,"y":133},{"x":2465.01,"x2":2465.21,"y":349},{"x":2465.82,"x2":2466.04,"y":320},{"x":2466.04,"x2":2466.13,"y":231},{"x":2466.13,"x2":2466.32,"y":471},{"x":2466.46,"x2":2466.67,"y":332},{"x":2466.94,"x2":2467.14,"y":411},{"x":2467.23,"x2":2467.44,"y":72},{"x":2467.75,"x2":2467.96,"y":660},{"x":2468.04,"x2":2468.23,"y":173},{"x":2468.23,"x2":2468.43,"y":228},{"x":2468.54,"x2":2468.74,"y":231},{"x":2468.74,"x2":2468.87,"y":134},{"x":2468.87,"x2":2469.05,"y":418},{"x":2469.05,"x2":2469.21,"y":91},{"x":2469.33,"x2":2469.53,"y":86},{"x":2469.66,"x2":2469.83,"y":140},{"x":2469.83,"x2":2469.97,"y":252},{"x":2469.97,"x2":2470.17,"y":451},{"x":2470.17,"x2":2470.30,"y":188},{"x":2470.30,"x2":2470.51,"y":235},{"x":2470.79,"x2":2470.98,"y":141},{"x":2471.07,"x2":2471.27,"y":29},{"x":2471.57,"x2":2471.77,"y":202},{"x":2471.77,"x2":2471.89,"y":22},{"x":2471.89,"x2":2472.08,"y":62},{"x":2472.53,"x2":2472.73,"y":51},{"x":2472.73,"x2":2472.90,"y":16},{"x":2473.03,"x2":2473.23,"y":77},{"x":2473.33,"x2":2473.53,"y":9},{"x":2473.67,"x2":2473.87,"y":42},{"x":2473.87,"x2":2474.02,"y":9},{"x":2474.32,"x2":2474.51,"y":16},{"x":2475.26,"x2":2475.45,"y":9},{"x":2475.76,"x2":2475.95,"y":33},{"x":2476.09,"x2":2476.27,"y":29},{"x":2476.27,"x2":2476.44,"y":9}
],
"k4": [
{"s":1,"x":1042.75,"y":640},{"s":1,"x":1043.3,"y":480},{"s":1,"x":1043.85,"y":300},{"s":1,"x":1044.4,"y":170},{"s":1,"x":1044.95,"y":700},{"s":1,"x":1045.5,"y":1030},{"s":1,"x":1046.05,"y":1150},{"s":1,"x":1046.6,"y":1175},{"s":1,"x":1047.15,"y":1140},{"s":1,"x":1047.7,"y":1060},{"s":1,"x":1048.25,"y":890},{"s":1,"x":1048.8,"y":640},{"s":1,"x":1049.35,"y":410},{"s":1,"x":1049.9,"y":200},{"s":1,"x":1050.6,"y":90},
{"s":2,"x":1042.75,"y":700},{"s":2,"x":1043.3,"y":540},{"s":2,"x":1043.85,"y":350},{"s":2,"x":1044.4,"y":170},{"s":2,"x":1044.95,"y":350},{"s":2,"x":1045.5,"y":700},{"s":2,"x":1046.05,"y":950},{"s":2,"x":1046.6,"y":1070},{"s":2,"x":1047.15,"y":1100},{"s":2,"x":1047.7,"y":1040},{"s":2,"x":1048.25,"y":880},{"s":2,"x":1048.8,"y":660},{"s":2,"x":1049.35,"y":430},{"s":2,"x":1049.9,"y":210},{"s":2,"x":1050.6,"y":90},
{"s":3,"x":1042.75,"y":590},{"s":3,"x":1043.3,"y":440},{"s":3,"x":1043.85,"y":280},{"s":3,"x":1044.4,"y":140},{"s":3,"x":1044.95,"y":300},{"s":3,"x":1045.5,"y":620},{"s":3,"x":1046.05,"y":860},{"s":3,"x":1046.6,"y":970},{"s":3,"x":1047.15,"y":960},{"s":3,"x":1047.7,"y":860},{"s":3,"x":1048.25,"y":690},{"s":3,"x":1048.8,"y":480},{"s":3,"x":1049.35,"y":290},{"s":3,"x":1049.9,"y":140},{"s":3,"x":1050.6,"y":80},
{"s":4,"x":1042.75,"y":430},{"s":4,"x":1043.3,"y":320},{"s":4,"x":1043.85,"y":200},{"s":4,"x":1044.4,"y":120},{"s":4,"x":1044.95,"y":280},{"s":4,"x":1045.5,"y":600},{"s":4,"x":1046.05,"y":820},{"s":4,"x":1046.6,"y":900},{"s":4,"x":1047.15,"y":860},{"s":4,"x":1047.7,"y":740},{"s":4,"x":1048.25,"y":560},{"s":4,"x":1048.8,"y":360},{"s":4,"x":1049.35,"y":200},{"s":4,"x":1049.9,"y":100},{"s":4,"x":1050.6,"y":70},
{"s":5,"x":1042.75,"y":400},{"s":5,"x":1043.3,"y":300},{"s":5,"x":1043.85,"y":190},{"s":5,"x":1044.4,"y":110},{"s":5,"x":1044.95,"y":200},{"s":5,"x":1045.5,"y":450},{"s":5,"x":1046.05,"y":680},{"s":5,"x":1046.6,"y":810},{"s":5,"x":1047.15,"y":850},{"s":5,"x":1047.7,"y":800},{"s":5,"x":1048.25,"y":660},{"s":5,"x":1048.8,"y":470},{"s":5,"x":1049.35,"y":280},{"s":5,"x":1049.9,"y":130},{"s":5,"x":1050.6,"y":70},
{"s":6,"x":1042.75,"y":360},{"s":6,"x":1043.3,"y":270},{"s":6,"x":1043.85,"y":170},{"s":6,"x":1044.4,"y":100},{"s":6,"x":1044.95,"y":210},{"s":6,"x":1045.5,"y":450},{"s":6,"x":1046.05,"y":650},{"s":6,"x":1046.6,"y":760},{"s":6,"x":1047.15,"y":770},{"s":6,"x":1047.7,"y":690},{"s":6,"x":1048.25,"y":530},{"s":6,"x":1048.8,"y":350},{"s":6,"x":1049.35,"y":200},{"s":6,"x":1049.9,"y":100},{"s":6,"x":1050.6,"y":70},
{"s":7,"x":1042.75,"y":250},{"s":7,"x":1043.3,"y":200},{"s":7,"x":1043.85,"y":140},{"s":7,"x":1044.4,"y":90},{"s":7,"x":1044.95,"y":150},{"s":7,"x":1045.5,"y":330},{"s":7,"x":1046.05,"y":500},{"s":7,"x":1046.6,"y":630},{"s":7,"x":1047.15,"y":690},{"s":7,"x":1047.7,"y":700},{"s":7,"x":1048.25,"y":610},{"s":7,"x":1048.8,"y":440},{"s":7,"x":1049.35,"y":260},{"s":7,"x":1049.9,"y":120},{"s":7,"x":1050.6,"y":70},
{"s":8,"x":1042.75,"y":300},{"s":8,"x":1043.3,"y":230},{"s":8,"x":1043.85,"y":150},{"s":8,"x":1044.4,"y":90},{"s":8,"x":1044.95,"y":180},{"s":8,"x":1045.5,"y":380},{"s":8,"x":1046.05,"y":540},{"s":8,"x":1046.6,"y":610},{"s":8,"x":1047.15,"y":600},{"s":8,"x":1047.7,"y":520},{"s":8,"x":1048.25,"y":390},{"s":8,"x":1048.8,"y":250},{"s":8,"x":1049.35,"y":150},{"s":8,"x":1049.9,"y":90},{"s":8,"x":1050.6,"y":70},
{"s":9,"x":1042.75,"y":560},{"s":9,"x":1043.3,"y":400},{"s":9,"x":1043.85,"y":250},{"s":9,"x":1044.4,"y":130},{"s":9,"x":1044.95,"y":240},{"s":9,"x":1045.5,"y":530},{"s":9,"x":1046.05,"y":820},{"s":9,"x":1046.6,"y":990},{"s":9,"x":1047.15,"y":1040},{"s":9,"x":1047.7,"y":1000},{"s":9,"x":1048.25,"y":880},{"s":9,"x":1048.8,"y":690},{"s":9,"x":1049.35,"y":470},{"s":9,"x":1049.9,"y":250},{"s":9,"x":1050.6,"y":100},
{"s":10,"x":1042.75,"y":200},{"s":10,"x":1043.3,"y":160},{"s":10,"x":1043.85,"y":110},{"s":10,"x":1044.4,"y":80},{"s":10,"x":1044.95,"y":110},{"s":10,"x":1045.5,"y":200},{"s":10,"x":1046.05,"y":300},{"s":10,"x":1046.6,"y":380},{"s":10,"x":1047.15,"y":420},{"s":10,"x":1047.7,"y":400},{"s":10,"x":1048.25,"y":330},{"s":10,"x":1048.8,"y":230},{"s":10,"x":1049.35,"y":140},{"s":10,"x":1049.9,"y":90},{"s":10,"x":1050.6,"y":70},
{"s":11,"x":1042.75,"y":500},{"s":11,"x":1043.3,"y":380},{"s":11,"x":1043.85,"y":240},{"s":11,"x":1044.4,"y":140},{"s":11,"x":1044.95,"y":520},{"s":11,"x":1045.5,"y":780},{"s":11,"x":1046.05,"y":860},{"s":11,"x":1046.6,"y":830},{"s":11,"x":1047.15,"y":740},{"s":11,"x":1047.7,"y":600},{"s":11,"x":1048.25,"y":440},{"s":11,"x":1048.8,"y":280},{"s":11,"x":1049.35,"y":160},{"s":11,"x":1049.9,"y":90},{"s":11,"x":1050.6,"y":70},
{"s":12,"x":1042.75,"y":480},{"s":12,"x":1043.3,"y":360},{"s":12,"x":1043.85,"y":230},{"s":12,"x":1044.4,"y":130},{"s":12,"x":1044.95,"y":330},{"s":12,"x":1045.5,"y":700},{"s":12,"x":1046.05,"y":900},{"s":12,"x":1046.6,"y":960},{"s":12,"x":1047.15,"y":910},{"s":12,"x":1047.7,"y":790},{"s":12,"x":1048.25,"y":610},{"s":12,"x":1048.8,"y":400},{"s":12,"x":1049.35,"y":230},{"s":12,"x":1049.9,"y":110},{"s":12,"x":1050.6,"y":70},
{"s":13,"x":1042.75,"y":330},{"s":13,"x":1043.3,"y":250},{"s":13,"x":1043.85,"y":160},{"s":13,"x":1044.4,"y":100},{"s":13,"x":1044.95,"y":200},{"s":13,"x":1045.5,"y":430},{"s":13,"x":1046.05,"y":620},{"s":13,"x":1046.6,"y":710},{"s":13,"x":1047.15,"y":720},{"s":13,"x":1047.7,"y":650},{"s":13,"x":1048.25,"y":500},{"s":13,"x":1048.8,"y":330},{"s":13,"x":1049.35,"y":190},{"s":13,"x":1049.9,"y":100},{"s":13,"x":1050.6,"y":70},
{"s":14,"x":1042.75,"y":270},{"s":14,"x":1043.3,"y":210},{"s":14,"x":1043.85,"y":140},{"s":14,"x":1044.4,"y":90},{"s":14,"x":1044.95,"y":250},{"s":14,"x":1045.5,"y":470},{"s":14,"x":1046.05,"y":560},{"s":14,"x":1046.6,"y":540},{"s":14,"x":1047.15,"y":470},{"s":14,"x":1047.7,"y":370},{"s":14,"x":1048.25,"y":260},{"s":14,"x":1048.8,"y":170},{"s":14,"x":1049.35,"y":110},{"s":14,"x":1049.9,"y":80},{"s":14,"x":1050.6,"y":70}
],
"c4": [
{"s":1,"x":1042.75,"y":360},{"s":1,"x":1043.3,"y":330},{"s":1,"x":1043.85,"y":300},{"s":1,"x":1044.4,"y":220},{"s":1,"x":1044.95,"y":180},{"s":1,"x":1045.5,"y":130},{"s":1,"x":1046.05,"y":100},{"s":1,"x":1046.6,"y":110},{"s":1,"x":1047.15,"y":120},{"s":1,"x":1047.7,"y":105},{"s":1,"x":1048.25,"y":115},{"s":1,"x":1048.8,"y":110},{"s":1,"x":1049.35,"y":100},{"s":1,"x":1049.9,"y":110},{"s":1,"x":1050.45,"y":105},{"s":1,"x":1051.0,"y":115},{"s":1,"x":1051.55,"y":120},{"s":1,"x":1052.1,"y":160},{"s":1,"x":1052.6,"y":120},
{"s":2,"x":1042.75,"y":310},{"s":2,"x":1043.3,"y":270},{"s":2,"x":1043.85,"y":230},{"s":2,"x":1044.4,"y":190},{"s":2,"x":1044.95,"y":150},{"s":2,"x":1045.5,"y":110},{"s":2,"x":1046.05,"y":90},{"s":2,"x":1046.6,"y":90},{"s":2,"x":1047.15,"y":100},{"s":2,"x":1047.7,"y":90},{"s":2,"x":1048.25,"y":95},{"s":2,"x":1048.8,"y":90},{"s":2,"x":1049.35,"y":85},{"s":2,"x":1049.9,"y":95},{"s":2,"x":1050.45,"y":90},{"s":2,"x":1051.0,"y":95},{"s":2,"x":1051.55,"y":100},{"s":2,"x":1052.1,"y":120},{"s":2,"x":1052.6,"y":105},
{"s":3,"x":1042.75,"y":270},{"s":3,"x":1043.3,"y":230},{"s":3,"x":1043.85,"y":200},{"s":3,"x":1044.4,"y":160},{"s":3,"x":1044.95,"y":120},{"s":3,"x":1045.5,"y":90},{"s":3,"x":1046.05,"y":75},{"s":3,"x":1046.6,"y":80},{"s":3,"x":1047.15,"y":80},{"s":3,"x":1047.7,"y":75},{"s":3,"x":1048.25,"y":80},{"s":3,"x":1048.8,"y":75},{"s":3,"x":1049.35,"y":70},{"s":3,"x":1049.9,"y":80},{"s":3,"x":1050.45,"y":75},{"s":3,"x":1051.0,"y":80},{"s":3,"x":1051.55,"y":85},{"s":3,"x":1052.1,"y":95},{"s":3,"x":1052.6,"y":90},
{"s":4,"x":1042.75,"y":230},{"s":4,"x":1043.3,"y":200},{"s":4,"x":1043.85,"y":170},{"s":4,"x":1044.4,"y":130},{"s":4,"x":1044.95,"y":100},{"s":4,"x":1045.5,"y":75},{"s":4,"x":1046.05,"y":60},{"s":4,"x":1046.6,"y":60},{"s":4,"x":1047.15,"y":65},{"s":4,"x":1047.7,"y":60},{"s":4,"x":1048.25,"y":65},{"s":4,"x":1048.8,"y":60},{"s":4,"x":1049.35,"y":60},{"s":4,"x":1049.9,"y":65},{"s":4,"x":1050.45,"y":60},{"s":4,"x":1051.0,"y":65},{"s":4,"x":1051.55,"y":70},{"s":4,"x":1052.1,"y":75},{"s":4,"x":1052.6,"y":70},
{"s":5,"x":1042.75,"y":190},{"s":5,"x":1043.3,"y":160},{"s":5,"x":1043.85,"y":140},{"s":5,"x":1044.4,"y":110},{"s":5,"x":1044.95,"y":80},{"s":5,"x":1045.5,"y":55},{"s":5,"x":1046.05,"y":45},{"s":5,"x":1046.6,"y":45},{"s":5,"x":1047.15,"y":50},{"s":5,"x":1047.7,"y":45},{"s":5,"x":1048.25,"y":50},{"s":5,"x":1048.8,"y":45},{"s":5,"x":1049.35,"y":45},{"s":5,"x":1049.9,"y":50},{"s":5,"x":1050.45,"y":45},{"s":5,"x":1051.0,"y":50},{"s":5,"x":1051.55,"y":55},{"s":5,"x":1052.1,"y":55},{"s":5,"x":1052.6,"y":50},
{"s":6,"x":1042.75,"y":140},{"s":6,"x":1043.3,"y":120},{"s":6,"x":1043.85,"y":100},{"s":6,"x":1044.4,"y":80},{"s":6,"x":1044.95,"y":60},{"s":6,"x":1045.5,"y":40},{"s":6,"x":1046.05,"y":30},{"s":6,"x":1046.6,"y":30},{"s":6,"x":1047.15,"y":35},{"s":6,"x":1047.7,"y":30},{"s":6,"x":1048.25,"y":35},{"s":6,"x":1048.8,"y":30},{"s":6,"x":1049.35,"y":30},{"s":6,"x":1049.9,"y":35},{"s":6,"x":1050.45,"y":30},{"s":6,"x":1051.0,"y":35},{"s":6,"x":1051.55,"y":35},{"s":6,"x":1052.1,"y":40},{"s":6,"x":1052.6,"y":35},
{"s":7,"x":1042.75,"y":90},{"s":7,"x":1043.3,"y":80},{"s":7,"x":1043.85,"y":65},{"s":7,"x":1044.4,"y":55},{"s":7,"x":1044.95,"y":40},{"s":7,"x":1045.5,"y":25},{"s":7,"x":1046.05,"y":15},{"s":7,"x":1046.6,"y":15},{"s":7,"x":1047.15,"y":20},{"s":7,"x":1047.7,"y":15},{"s":7,"x":1048.25,"y":20},{"s":7,"x":1048.8,"y":15},{"s":7,"x":1049.35,"y":15},{"s":7,"x":1049.9,"y":20},{"s":7,"x":1050.45,"y":15},{"s":7,"x":1051.0,"y":20},{"s":7,"x":1051.55,"y":20},{"s":7,"x":1052.1,"y":20},{"s":7,"x":1052.6,"y":20},
{"s":8,"x":1042.75,"y":335},{"s":8,"x":1043.3,"y":300},{"s":8,"x":1043.85,"y":265},{"s":8,"x":1044.4,"y":205},{"s":8,"x":1044.95,"y":165},{"s":8,"x":1045.5,"y":120},{"s":8,"x":1046.05,"y":95},{"s":8,"x":1046.6,"y":100},{"s":8,"x":1047.15,"y":110},{"s":8,"x":1047.7,"y":98},{"s":8,"x":1048.25,"y":105},{"s":8,"x":1048.8,"y":100},{"s":8,"x":1049.35,"y":92},{"s":8,"x":1049.9,"y":102},{"s":8,"x":1050.45,"y":98},{"s":8,"x":1051.0,"y":105},{"s":8,"x":1051.55,"y":110},{"s":8,"x":1052.1,"y":140},{"s":8,"x":1052.6,"y":112},
{"s":9,"x":1042.75,"y":250},{"s":9,"x":1043.3,"y":215},{"s":9,"x":1043.85,"y":185},{"s":9,"x":1044.4,"y":145},{"s":9,"x":1044.95,"y":110},{"s":9,"x":1045.5,"y":82},{"s":9,"x":1046.05,"y":68},{"s":9,"x":1046.6,"y":70},{"s":9,"x":1047.15,"y":72},{"s":9,"x":1047.7,"y":68},{"s":9,"x":1048.25,"y":72},{"s":9,"x":1048.8,"y":68},{"s":9,"x":1049.35,"y":65},{"s":9,"x":1049.9,"y":72},{"s":9,"x":1050.45,"y":68},{"s":9,"x":1051.0,"y":72},{"s":9,"x":1051.55,"y":78},{"s":9,"x":1052.1,"y":85},{"s":9,"x":1052.6,"y":80}
],
"b4": [
{"x":1042.68,"x2":1042.90,"y":189},{"x":1042.90,"x2":1043.12,"y":97},{"x":1043.12,"x2":1043.16,"y":15},{"x":1043.30,"x2":1043.52,"y":202},{"x":1043.52,"x2":1043.63,"y":100},{"x":1043.63,"x2":1043.83,"y":110},{"x":1043.93,"x2":1044.04,"y":25},{"x":1044.04,"x2":1044.26,"y":88},{"x":1044.26,"x2":1044.47,"y":129},{"x":1044.47,"x2":1044.56,"y":49},{"x":1044.56,"x2":1044.67,"y":69},{"x":1044.67,"x2":1044.89,"y":97},{"x":1044.89,"x2":1045.10,"y":21},{"x":1045.18,"x2":1045.40,"y":122},{"x":1045.40,"x2":1045.60,"y":208},{"x":1045.60,"x2":1045.81,"y":368},{"x":1045.81,"x2":1046.02,"y":254},{"x":1046.02,"x2":1046.24,"y":311},{"x":1046.64,"x2":1046.84,"y":398},{"x":1046.84,"x2":1047.09,"y":472},{"x":1047.09,"x2":1047.29,"y":408},{"x":1047.29,"x2":1047.48,"y":265},{"x":1047.48,"x2":1047.71,"y":97},{"x":1048.10,"x2":1048.32,"y":65},{"x":1048.54,"x2":1048.74,"y":40},{"x":1048.94,"x2":1049.17,"y":139},{"x":1049.25,"x2":1049.48,"y":37},{"x":1049.68,"x2":1049.89,"y":27},{"x":1049.89,"x2":1049.99,"y":15},{"x":1050.12,"x2":1050.42,"y":15},{"x":1050.42,"x2":1050.64,"y":15},{"x":1050.64,"x2":1050.94,"y":10},{"x":1050.94,"x2":1051.16,"y":27},{"x":1051.16,"x2":1051.47,"y":10},{"x":1051.47,"x2":1051.76,"y":30},{"x":1051.76,"x2":1052.00,"y":50},{"x":1052.19,"x2":1052.41,"y":19}
],
"k5": [
{"s":1,"x":3140.7,"y":40},{"s":1,"x":3145.0,"y":50},{"s":1,"x":3146.0,"y":80},{"s":1,"x":3147.0,"y":120},{"s":1,"x":3148.0,"y":150},{"s":1,"x":3149.0,"y":160},{"s":1,"x":3150.0,"y":140},{"s":1,"x":3151.0,"y":100},{"s":1,"x":3151.8,"y":60},{"s":1,"x":3152.5,"y":120},{"s":1,"x":3153.2,"y":330},{"s":1,"x":3153.9,"y":470},{"s":1,"x":3154.6,"y":600},{"s":1,"x":3155.3,"y":680},{"s":1,"x":3156.0,"y":725},{"s":1,"x":3156.7,"y":725},{"s":1,"x":3157.8,"y":670},
{"s":2,"x":3140.7,"y":35},{"s":2,"x":3145.0,"y":45},{"s":2,"x":3146.0,"y":70},{"s":2,"x":3147.0,"y":110},{"s":2,"x":3148.0,"y":140},{"s":2,"x":3149.0,"y":150},{"s":2,"x":3150.0,"y":130},{"s":2,"x":3151.0,"y":90},{"s":2,"x":3151.8,"y":50},{"s":2,"x":3152.5,"y":80},{"s":2,"x":3153.2,"y":260},{"s":2,"x":3153.9,"y":420},{"s":2,"x":3154.6,"y":560},{"s":2,"x":3155.3,"y":650},{"s":2,"x":3156.0,"y":690},{"s":2,"x":3156.7,"y":680},{"s":2,"x":3157.8,"y":640},
{"s":3,"x":3140.7,"y":30},{"s":3,"x":3145.0,"y":40},{"s":3,"x":3146.0,"y":60},{"s":3,"x":3147.0,"y":100},{"s":3,"x":3148.0,"y":130},{"s":3,"x":3149.0,"y":140},{"s":3,"x":3150.0,"y":120},{"s":3,"x":3151.0,"y":80},{"s":3,"x":3151.8,"y":45},{"s":3,"x":3152.5,"y":60},{"s":3,"x":3153.2,"y":150},{"s":3,"x":3153.9,"y":280},{"s":3,"x":3154.6,"y":420},{"s":3,"x":3155.3,"y":530},{"s":3,"x":3156.0,"y":600},{"s":3,"x":3156.7,"y":640},{"s":3,"x":3157.8,"y":650},
{"s":4,"x":3140.7,"y":30},{"s":4,"x":3145.0,"y":40},{"s":4,"x":3146.0,"y":70},{"s":4,"x":3147.0,"y":130},{"s":4,"x":3148.0,"y":170},{"s":4,"x":3149.0,"y":180},{"s":4,"x":3150.0,"y":150},{"s":4,"x":3151.0,"y":100},{"s":4,"x":3151.8,"y":50},{"s":4,"x":3152.5,"y":50},{"s":4,"x":3153.2,"y":90},{"s":4,"x":3153.9,"y":180},{"s":4,"x":3154.6,"y":310},{"s":4,"x":3155.3,"y":440},{"s":4,"x":3156.0,"y":540},{"s":4,"x":3156.7,"y":600},{"s":4,"x":3157.8,"y":620},
{"s":5,"x":3140.7,"y":35},{"s":5,"x":3145.0,"y":45},{"s":5,"x":3146.0,"y":60},{"s":5,"x":3147.0,"y":100},{"s":5,"x":3148.0,"y":140},{"s":5,"x":3149.0,"y":190},{"s":5,"x":3150.0,"y":160},{"s":5,"x":3151.0,"y":110},{"s":5,"x":3151.8,"y":55},{"s":5,"x":3152.5,"y":50},{"s":5,"x":3153.2,"y":70},{"s":5,"x":3153.9,"y":130},{"s":5,"x":3154.6,"y":240},{"s":5,"x":3155.3,"y":360},{"s":5,"x":3156.0,"y":470},{"s":5,"x":3156.7,"y":540},{"s":5,"x":3157.8,"y":580},
{"s":6,"x":3140.7,"y":30},{"s":6,"x":3145.0,"y":35},{"s":6,"x":3146.0,"y":50},{"s":6,"x":3147.0,"y":90},{"s":6,"x":3148.0,"y":120},{"s":6,"x":3149.0,"y":130},{"s":6,"x":3150.0,"y":120},{"s":6,"x":3151.0,"y":80},{"s":6,"x":3151.8,"y":40},{"s":6,"x":3152.5,"y":40},{"s":6,"x":3153.2,"y":60},{"s":6,"x":3153.9,"y":100},{"s":6,"x":3154.6,"y":170},{"s":6,"x":3155.3,"y":270},{"s":6,"x":3156.0,"y":380},{"s":6,"x":3156.7,"y":470},{"s":6,"x":3157.8,"y":540},
{"s":7,"x":3140.7,"y":30},{"s":7,"x":3145.0,"y":40},{"s":7,"x":3146.0,"y":60},{"s":7,"x":3147.0,"y":110},{"s":7,"x":3148.0,"y":150},{"s":7,"x":3149.0,"y":160},{"s":7,"x":3150.0,"y":130},{"s":7,"x":3151.0,"y":90},{"s":7,"x":3151.8,"y":45},{"s":7,"x":3152.5,"y":40},{"s":7,"x":3153.2,"y":50},{"s":7,"x":3153.9,"y":80},{"s":7,"x":3154.6,"y":130},{"s":7,"x":3155.3,"y":210},{"s":7,"x":3156.0,"y":300},{"s":7,"x":3156.7,"y":390},{"s":7,"x":3157.8,"y":480},
{"s":8,"x":3140.7,"y":25},{"s":8,"x":3145.0,"y":35},{"s":8,"x":3146.0,"y":50},{"s":8,"x":3147.0,"y":80},{"s":8,"x":3148.0,"y":110},{"s":8,"x":3149.0,"y":120},{"s":8,"x":3150.0,"y":100},{"s":8,"x":3151.0,"y":70},{"s":8,"x":3151.8,"y":40},{"s":8,"x":3152.5,"y":35},{"s":8,"x":3153.2,"y":45},{"s":8,"x":3153.9,"y":65},{"s":8,"x":3154.6,"y":100},{"s":8,"x":3155.3,"y":160},{"s":8,"x":3156.0,"y":240},{"s":8,"x":3156.7,"y":320},{"s":8,"x":3157.8,"y":420},
{"s":9,"x":3140.7,"y":30},{"s":9,"x":3145.0,"y":40},{"s":9,"x":3146.0,"y":60},{"s":9,"x":3147.0,"y":100},{"s":9,"x":3148.0,"y":130},{"s":9,"x":3149.0,"y":140},{"s":9,"x":3150.0,"y":120},{"s":9,"x":3151.0,"y":80},{"s":9,"x":3151.8,"y":40},{"s":9,"x":3152.5,"y":35},{"s":9,"x":3153.2,"y":40},{"s":9,"x":3153.9,"y":55},{"s":9,"x":3154.6,"y":80},{"s":9,"x":3155.3,"y":120},{"s":9,"x":3156.0,"y":180},{"s":9,"x":3156.7,"y":250},{"s":9,"x":3157.8,"y":330},
{"s":10,"x":3140.7,"y":30},{"s":10,"x":3145.0,"y":40},{"s":10,"x":3146.0,"y":70},{"s":10,"x":3147.0,"y":120},{"s":10,"x":3148.0,"y":160},{"s":10,"x":3149.0,"y":170},{"s":10,"x":3150.0,"y":140},{"s":10,"x":3151.0,"y":90},{"s":10,"x":3151.8,"y":50},{"s":10,"x":3152.5,"y":70},{"s":10,"x":3153.2,"y":200},{"s":10,"x":3153.9,"y":380},{"s":10,"x":3154.6,"y":520},{"s":10,"x":3155.3,"y":590},{"s":10,"x":3156.0,"y":600},{"s":10,"x":3156.7,"y":560},{"s":10,"x":3157.8,"y":480},
{"s":11,"x":3140.7,"y":25},{"s":11,"x":3145.0,"y":30},{"s":11,"x":3146.0,"y":50},{"s":11,"x":3147.0,"y":80},{"s":11,"x":3148.0,"y":110},{"s":11,"x":3149.0,"y":120},{"s":11,"x":3150.0,"y":110},{"s":11,"x":3151.0,"y":70},{"s":11,"x":3151.8,"y":40},{"s":11,"x":3152.5,"y":35},{"s":11,"x":3153.2,"y":40},{"s":11,"x":3153.9,"y":50},{"s":11,"x":3154.6,"y":70},{"s":11,"x":3155.3,"y":100},{"s":11,"x":3156.0,"y":150},{"s":11,"x":3156.7,"y":210},{"s":11,"x":3157.8,"y":270},
{"s":12,"x":3140.7,"y":30},{"s":12,"x":3145.0,"y":40},{"s":12,"x":3146.0,"y":65},{"s":12,"x":3147.0,"y":115},{"s":12,"x":3148.0,"y":155},{"s":12,"x":3149.0,"y":165},{"s":12,"x":3150.0,"y":135},{"s":12,"x":3151.0,"y":90},{"s":12,"x":3151.8,"y":50},{"s":12,"x":3152.5,"y":60},{"s":12,"x":3153.2,"y":120},{"s":12,"x":3153.9,"y":230},{"s":12,"x":3154.6,"y":360},{"s":12,"x":3155.3,"y":480},{"s":12,"x":3156.0,"y":570},{"s":12,"x":3156.7,"y":620},{"s":12,"x":3157.8,"y":640},
{"s":13,"x":3140.7,"y":30},{"s":13,"x":3145.0,"y":40},{"s":13,"x":3146.0,"y":60},{"s":13,"x":3147.0,"y":105},{"s":13,"x":3148.0,"y":145},{"s":13,"x":3149.0,"y":155},{"s":13,"x":3150.0,"y":130},{"s":13,"x":3151.0,"y":85},{"s":13,"x":3151.8,"y":45},{"s":13,"x":3152.5,"y":45},{"s":13,"x":3153.2,"y":70},{"s":13,"x":3153.9,"y":150},{"s":13,"x":3154.6,"y":280},{"s":13,"x":3155.3,"y":410},{"s":13,"x":3156.0,"y":510},{"s":13,"x":3156.7,"y":580},{"s":13,"x":3157.8,"y":610}
],
"c5": [
{"s":1,"x":3140.7,"y":105},{"s":1,"x":3141.5,"y":130},{"s":1,"x":3142.3,"y":95},{"s":1,"x":3143.1,"y":90},{"s":1,"x":3143.9,"y":100},{"s":1,"x":3144.7,"y":95},{"s":1,"x":3145.5,"y":90},{"s":1,"x":3146.3,"y":85},{"s":1,"x":3147.1,"y":95},{"s":1,"x":3147.9,"y":90},{"s":1,"x":3148.7,"y":95},{"s":1,"x":3149.5,"y":85},{"s":1,"x":3150.3,"y":90},{"s":1,"x":3151.1,"y":85},{"s":1,"x":3151.9,"y":80},{"s":1,"x":3152.7,"y":100},{"s":1,"x":3153.5,"y":150},{"s":1,"x":3154.3,"y":220},{"s":1,"x":3155.1,"y":290},{"s":1,"x":3155.9,"y":340},{"s":1,"x":3156.7,"y":420},{"s":1,"x":3157.8,"y":450},
{"s":2,"x":3140.7,"y":90},{"s":2,"x":3141.5,"y":95},{"s":2,"x":3142.3,"y":85},{"s":2,"x":3143.1,"y":80},{"s":2,"x":3143.9,"y":90},{"s":2,"x":3144.7,"y":85},{"s":2,"x":3145.5,"y":80},{"s":2,"x":3146.3,"y":80},{"s":2,"x":3147.1,"y":85},{"s":2,"x":3147.9,"y":80},{"s":2,"x":3148.7,"y":85},{"s":2,"x":3149.5,"y":80},{"s":2,"x":3150.3,"y":80},{"s":2,"x":3151.1,"y":75},{"s":2,"x":3151.9,"y":70},{"s":2,"x":3152.7,"y":75},{"s":2,"x":3153.5,"y":100},{"s":2,"x":3154.3,"y":160},{"s":2,"x":3155.1,"y":230},{"s":2,"x":3155.9,"y":280},{"s":2,"x":3156.7,"y":330},{"s":2,"x":3157.8,"y":380},
{"s":3,"x":3140.7,"y":75},{"s":3,"x":3141.5,"y":80},{"s":3,"x":3142.3,"y":70},{"s":3,"x":3143.1,"y":75},{"s":3,"x":3143.9,"y":70},{"s":3,"x":3144.7,"y":75},{"s":3,"x":3145.5,"y":70},{"s":3,"x":3146.3,"y":65},{"s":3,"x":3147.1,"y":70},{"s":3,"x":3147.9,"y":75},{"s":3,"x":3148.7,"y":70},{"s":3,"x":3149.5,"y":65},{"s":3,"x":3150.3,"y":70},{"s":3,"x":3151.1,"y":65},{"s":3,"x":3151.9,"y":60},{"s":3,"x":3152.7,"y":60},{"s":3,"x":3153.5,"y":70},{"s":3,"x":3154.3,"y":110},{"s":3,"x":3155.1,"y":170},{"s":3,"x":3155.9,"y":220},{"s":3,"x":3156.7,"y":270},{"s":3,"x":3157.8,"y":320},
{"s":4,"x":3140.7,"y":60},{"s":4,"x":3141.5,"y":65},{"s":4,"x":3142.3,"y":55},{"s":4,"x":3143.1,"y":60},{"s":4,"x":3143.9,"y":60},{"s":4,"x":3144.7,"y":55},{"s":4,"x":3145.5,"y":60},{"s":4,"x":3146.3,"y":55},{"s":4,"x":3147.1,"y":60},{"s":4,"x":3147.9,"y":55},{"s":4,"x":3148.7,"y":60},{"s":4,"x":3149.5,"y":55},{"s":4,"x":3150.3,"y":55},{"s":4,"x":3151.1,"y":55},{"s":4,"x":3151.9,"y":50},{"s":4,"x":3152.7,"y":50},{"s":4,"x":3153.5,"y":55},{"s":4,"x":3154.3,"y":80},{"s":4,"x":3155.1,"y":120},{"s":4,"x":3155.9,"y":170},{"s":4,"x":3156.7,"y":220},{"s":4,"x":3157.8,"y":260},
{"s":5,"x":3140.7,"y":45},{"s":5,"x":3141.5,"y":50},{"s":5,"x":3142.3,"y":40},{"s":5,"x":3143.1,"y":45},{"s":5,"x":3143.9,"y":45},{"s":5,"x":3144.7,"y":40},{"s":5,"x":3145.5,"y":45},{"s":5,"x":3146.3,"y":40},{"s":5,"x":3147.1,"y":45},{"s":5,"x":3147.9,"y":40},{"s":5,"x":3148.7,"y":45},{"s":5,"x":3149.5,"y":40},{"s":5,"x":3150.3,"y":45},{"s":5,"x":3151.1,"y":40},{"s":5,"x":3151.9,"y":40},{"s":5,"x":3152.7,"y":40},{"s":5,"x":3153.5,"y":45},{"s":5,"x":3154.3,"y":60},{"s":5,"x":3155.1,"y":90},{"s":5,"x":3155.9,"y":130},{"s":5,"x":3156.7,"y":170},{"s":5,"x":3157.8,"y":210},
{"s":6,"x":3140.7,"y":30},{"s":6,"x":3141.5,"y":35},{"s":6,"x":3142.3,"y":25},{"s":6,"x":3143.1,"y":30},{"s":6,"x":3143.9,"y":30},{"s":6,"x":3144.7,"y":25},{"s":6,"x":3145.5,"y":30},{"s":6,"x":3146.3,"y":25},{"s":6,"x":3147.1,"y":30},{"s":6,"x":3147.9,"y":25},{"s":6,"x":3148.7,"y":30},{"s":6,"x":3149.5,"y":25},{"s":6,"x":3150.3,"y":30},{"s":6,"x":3151.1,"y":25},{"s":6,"x":3151.9,"y":25},{"s":6,"x":3152.7,"y":25},{"s":6,"x":3153.5,"y":30},{"s":6,"x":3154.3,"y":45},{"s":6,"x":3155.1,"y":65},{"s":6,"x":3155.9,"y":95},{"s":6,"x":3156.7,"y":130},{"s":6,"x":3157.8,"y":160},
{"s":7,"x":3140.7,"y":15},{"s":7,"x":3141.5,"y":20},{"s":7,"x":3142.3,"y":12},{"s":7,"x":3143.1,"y":15},{"s":7,"x":3143.9,"y":15},{"s":7,"x":3144.7,"y":12},{"s":7,"x":3145.5,"y":15},{"s":7,"x":3146.3,"y":12},{"s":7,"x":3147.1,"y":15},{"s":7,"x":3147.9,"y":12},{"s":7,"x":3148.7,"y":15},{"s":7,"x":3149.5,"y":12},{"s":7,"x":3150.3,"y":15},{"s":7,"x":3151.1,"y":12},{"s":7,"x":3151.9,"y":12},{"s":7,"x":3152.7,"y":12},{"s":7,"x":3153.5,"y":15},{"s":7,"x":3154.3,"y":25},{"s":7,"x":3155.1,"y":40},{"s":7,"x":3155.9,"y":60},{"s":7,"x":3156.7,"y":90},{"s":7,"x":3157.8,"y":110},
{"s":8,"x":3140.7,"y":5},{"s":8,"x":3141.5,"y":8},{"s":8,"x":3142.3,"y":5},{"s":8,"x":3143.1,"y":6},{"s":8,"x":3143.9,"y":5},{"s":8,"x":3144.7,"y":6},{"s":8,"x":3145.5,"y":5},{"s":8,"x":3146.3,"y":6},{"s":8,"x":3147.1,"y":5},{"s":8,"x":3147.9,"y":6},{"s":8,"x":3148.7,"y":5},{"s":8,"x":3149.5,"y":6},{"s":8,"x":3150.3,"y":5},{"s":8,"x":3151.1,"y":6},{"s":8,"x":3151.9,"y":5},{"s":8,"x":3152.7,"y":5},{"s":8,"x":3153.5,"y":8},{"s":8,"x":3154.3,"y":15},{"s":8,"x":3155.1,"y":20},{"s":8,"x":3155.9,"y":35},{"s":8,"x":3156.7,"y":55},{"s":8,"x":3157.8,"y":80}
],
"b5": [
{"x":3140.64,"x2":3140.87,"y":47},{"x":3141.21,"x2":3141.44,"y":26},{"x":3141.55,"x2":3141.78,"y":6},{"x":3141.94,"x2":3142.16,"y":26},{"x":3142.50,"x2":3142.73,"y":6},{"x":3143.39,"x2":3143.59,"y":40},{"x":3143.59,"x2":3143.77,"y":47},{"x":3144.65,"x2":3144.87,"y":5},{"x":3144.87,"x2":3145.10,"y":18},{"x":3145.10,"x2":3145.26,"y":26},{"x":3145.36,"x2":3145.59,"y":26},{"x":3145.89,"x2":3146.12,"y":5},{"x":3146.62,"x2":3146.85,"y":18},{"x":3146.85,"x2":3147.00,"y":26},{"x":3147.00,"x2":3147.22,"y":50},{"x":3147.70,"x2":3147.91,"y":77},{"x":3147.91,"x2":3148.14,"y":147},{"x":3148.14,"x2":3148.32,"y":100},{"x":3148.61,"x2":3148.84,"y":47},{"x":3148.96,"x2":3149.20,"y":136},{"x":3149.58,"x2":3149.81,"y":8},{"x":3150.06,"x2":3150.29,"y":47},{"x":3150.41,"x2":3150.61,"y":38},{"x":3150.61,"x2":3150.79,"y":8},{"x":3150.79,"x2":3151.01,"y":130},{"x":3151.68,"x2":3151.92,"y":24},{"x":3152.00,"x2":3152.22,"y":8},{"x":3152.22,"x2":3152.44,"y":8},{"x":3152.44,"x2":3152.64,"y":24},{"x":3152.76,"x2":3152.95,"y":26},{"x":3152.95,"x2":3153.14,"y":10},{"x":3153.14,"x2":3153.35,"y":45},{"x":3153.67,"x2":3153.86,"y":33},{"x":3153.86,"x2":3154.09,"y":104},{"x":3154.09,"x2":3154.26,"y":85},{"x":3154.77,"x2":3155.02,"y":322},{"x":3155.02,"x2":3155.12,"y":57},{"x":3155.12,"x2":3155.34,"y":210},{"x":3155.34,"x2":3155.72,"y":106},{"x":3156.03,"x2":3156.26,"y":425},{"x":3156.26,"x2":3156.45,"y":177},{"x":3157.28,"x2":3157.49,"y":57}
]
},
"vconcat": [
{"width": 498, "height": 218, "layer": [
 {"data": {"name": "k1"}, "mark": {"type": "line", "interpolate": "monotone", "strokeWidth": 1.5}, "encoding": {
  "x": {"field": "x", "type": "quantitative", "scale": {"domain": [1616.63, 1630.31], "nice": false, "zero": false}, "axis": {"title": "m/z value", "values": [1618,1620,1622,1624,1626,1628,1630], "format": "d", "labelOverlap": false, "tickCount": 30}},
  "y": {"field": "y", "type": "quantitative", "scale": {"domain": [0, 2930], "nice": false}, "axis": {"title": "intensity", "values": [0,500,1000,1500,2000,2500], "format": "d", "labelOverlap": false, "tickCount": 30}},
  "detail": {"field": "s"},
  "color": {"datum": "Case spectra", "scale": {"domain": ["Case spectra","Control spectra","lrp.z"], "range": ["#1a1a1a","#3047a8","#d582c9"]},
   "legend": {"orient": "top-right", "encoding": {"symbols": {"shape": {"value": {"expr": "datum.value === 'lrp.z' ? 'M-2,-0.7H2V0.7H-2Z' : 'M-2,0H2'"}}, "fill": {"value": {"expr": "datum.value === 'lrp.z' ? '#d582c9' : 'transparent'"}}, "stroke": {"value": {"expr": "datum.value === 'Case spectra' ? '#1a1a1a' : (datum.value === 'Control spectra' ? '#4a5fbd' : 'transparent')"}}, "strokeWidth": {"value": 1.5}, "opacity": {"value": 1}}}}}}},
 {"data": {"name": "c1"}, "transform": [{"filter": "datum.s == 2"}], "mark": {"type": "area", "opacity": 1}, "encoding": {"x": {"field": "x", "type": "quantitative"}, "y": {"field": "y", "type": "quantitative"}, "y2": {"datum": 0}, "color": {"datum": "Control spectra"}}},
 {"data": {"name": "c1"}, "mark": {"type": "line", "strokeWidth": 1.5}, "encoding": {"x": {"field": "x", "type": "quantitative"}, "y": {"field": "y", "type": "quantitative"}, "detail": {"field": "s"}, "color": {"datum": "Control spectra"}}},
 {"data": {"name": "b1"}, "mark": {"type": "rect"}, "encoding": {"x": {"field": "x", "type": "quantitative"}, "x2": {"field": "x2"}, "y": {"field": "y", "type": "quantitative"}, "y2": {"datum": 0}, "color": {"datum": "lrp.z"}}}
]},
{"width": 498, "height": 218, "layer": [
 {"data": {"name": "k2"}, "mark": {"type": "line", "interpolate": "monotone", "strokeWidth": 1.5}, "encoding": {
  "x": {"field": "x", "type": "quantitative", "scale": {"domain": [1292.67, 1304.94], "nice": false, "zero": false}, "axis": {"title": "m/z value", "values": [1294,1296,1298,1300,1302,1304], "format": "d", "labelOverlap": false, "tickCount": 30}},
  "y": {"field": "y", "type": "quantitative", "scale": {"domain": [0, 1123], "nice": false}, "axis": {"title": "intensity", "values": [0,200,400,600,800,1000], "format": "d", "labelOverlap": false, "tickCount": 30}},
  "detail": {"field": "s"},
  "color": {"datum": "Case spectra", "scale": {"domain": ["Case spectra","Control spectra","lrp.z"], "range": ["#1a1a1a","#3047a8","#d582c9"]},
   "legend": {"orient": "top-right", "encoding": {"symbols": {"shape": {"value": {"expr": "datum.value === 'lrp.z' ? 'M-2,-0.7H2V0.7H-2Z' : 'M-2,0H2'"}}, "fill": {"value": {"expr": "datum.value === 'lrp.z' ? '#d582c9' : 'transparent'"}}, "stroke": {"value": {"expr": "datum.value === 'Case spectra' ? '#1a1a1a' : (datum.value === 'Control spectra' ? '#4a5fbd' : 'transparent')"}}, "strokeWidth": {"value": 1.5}, "opacity": {"value": 1}}}}}}},
 {"data": {"name": "c2"}, "transform": [{"filter": "datum.s == 2"}], "mark": {"type": "area", "opacity": 1}, "encoding": {"x": {"field": "x", "type": "quantitative"}, "y": {"field": "y", "type": "quantitative"}, "y2": {"datum": 0}, "color": {"datum": "Control spectra"}}},
 {"data": {"name": "c2"}, "mark": {"type": "line", "strokeWidth": 1.5}, "encoding": {"x": {"field": "x", "type": "quantitative"}, "y": {"field": "y", "type": "quantitative"}, "detail": {"field": "s"}, "color": {"datum": "Control spectra"}}},
 {"data": {"name": "b2"}, "mark": {"type": "rect"}, "encoding": {"x": {"field": "x", "type": "quantitative"}, "x2": {"field": "x2"}, "y": {"field": "y", "type": "quantitative"}, "y2": {"datum": 0}, "color": {"datum": "lrp.z"}}}
]},
{"width": 498, "height": 218, "layer": [
 {"data": {"name": "k3"}, "mark": {"type": "line", "interpolate": "monotone", "strokeWidth": 1.5}, "encoding": {
  "x": {"field": "x", "type": "quantitative", "scale": {"domain": [2460.57, 2477.34], "nice": false, "zero": false}, "axis": {"title": "m/z value", "values": [2462,2464,2466,2468,2470,2472,2474,2476], "format": "d", "labelOverlap": false, "tickCount": 30}},
  "y": {"field": "y", "type": "quantitative", "scale": {"domain": [0, 937], "nice": false}, "axis": {"title": "intensity", "values": [0,200,400,600,800], "format": "d", "labelOverlap": false, "tickCount": 30}},
  "detail": {"field": "s"},
  "color": {"datum": "Case spectra", "scale": {"domain": ["Case spectra","Control spectra","lrp.z"], "range": ["#1a1a1a","#3047a8","#d582c9"]},
   "legend": {"orient": "top-right", "encoding": {"symbols": {"shape": {"value": {"expr": "datum.value === 'lrp.z' ? 'M-2,-0.7H2V0.7H-2Z' : 'M-2,0H2'"}}, "fill": {"value": {"expr": "datum.value === 'lrp.z' ? '#d582c9' : 'transparent'"}}, "stroke": {"value": {"expr": "datum.value === 'Case spectra' ? '#1a1a1a' : (datum.value === 'Control spectra' ? '#4a5fbd' : 'transparent')"}}, "strokeWidth": {"value": 1.5}, "opacity": {"value": 1}}}}}}},
 {"data": {"name": "c3"}, "transform": [{"filter": "datum.s == 2"}], "mark": {"type": "area", "opacity": 1}, "encoding": {"x": {"field": "x", "type": "quantitative"}, "y": {"field": "y", "type": "quantitative"}, "y2": {"datum": 0}, "color": {"datum": "Control spectra"}}},
 {"data": {"name": "c3"}, "mark": {"type": "line", "strokeWidth": 1.5}, "encoding": {"x": {"field": "x", "type": "quantitative"}, "y": {"field": "y", "type": "quantitative"}, "detail": {"field": "s"}, "color": {"datum": "Control spectra"}}},
 {"data": {"name": "b3"}, "mark": {"type": "rect"}, "encoding": {"x": {"field": "x", "type": "quantitative"}, "x2": {"field": "x2"}, "y": {"field": "y", "type": "quantitative"}, "y2": {"datum": 0}, "color": {"datum": "lrp.z"}}}
]},
{"width": 498, "height": 218, "layer": [
 {"data": {"name": "k4"}, "mark": {"type": "line", "interpolate": "monotone", "strokeWidth": 1.5}, "encoding": {
  "x": {"field": "x", "type": "quantitative", "scale": {"domain": [1042.2, 1053.22], "nice": false, "zero": false}, "axis": {"title": "m/z value", "values": [1044,1046,1048,1050,1052], "format": "d", "labelOverlap": false, "tickCount": 30}},
  "y": {"field": "y", "type": "quantitative", "scale": {"domain": [0, 1250], "nice": false}, "axis": {"title": "intensity", "values": [0,200,400,600,800,1000,1200], "format": "d", "labelOverlap": false, "tickCount": 30}},
  "detail": {"field": "s"},
  "color": {"datum": "Case spectra", "scale": {"domain": ["Case spectra","Control spectra","lrp.z"], "range": ["#1a1a1a","#3047a8","#d582c9"]},
   "legend": {"orient": "top-right", "encoding": {"symbols": {"shape": {"value": {"expr": "datum.value === 'lrp.z' ? 'M-2,-0.7H2V0.7H-2Z' : 'M-2,0H2'"}}, "fill": {"value": {"expr": "datum.value === 'lrp.z' ? '#d582c9' : 'transparent'"}}, "stroke": {"value": {"expr": "datum.value === 'Case spectra' ? '#1a1a1a' : (datum.value === 'Control spectra' ? '#4a5fbd' : 'transparent')"}}, "strokeWidth": {"value": 1.5}, "opacity": {"value": 1}}}}}}},
 {"data": {"name": "c4"}, "transform": [{"filter": "datum.s == 2"}], "mark": {"type": "area", "opacity": 1}, "encoding": {"x": {"field": "x", "type": "quantitative"}, "y": {"field": "y", "type": "quantitative"}, "y2": {"datum": 0}, "color": {"datum": "Control spectra"}}},
 {"data": {"name": "c4"}, "mark": {"type": "line", "strokeWidth": 1.5}, "encoding": {"x": {"field": "x", "type": "quantitative"}, "y": {"field": "y", "type": "quantitative"}, "detail": {"field": "s"}, "color": {"datum": "Control spectra"}}},
 {"data": {"name": "b4"}, "mark": {"type": "rect"}, "encoding": {"x": {"field": "x", "type": "quantitative"}, "x2": {"field": "x2"}, "y": {"field": "y", "type": "quantitative"}, "y2": {"datum": 0}, "color": {"datum": "lrp.z"}}}
]},
{"width": 498, "height": 218, "layer": [
 {"data": {"name": "k5"}, "mark": {"type": "line", "interpolate": "monotone", "strokeWidth": 1.5}, "encoding": {
  "x": {"field": "x", "type": "quantitative", "scale": {"domain": [3139.82, 3158.72], "nice": false, "zero": false}, "axis": {"title": "m/z value", "values": [3140,3142.5,3145,3147.5,3150,3152.5,3155,3157.5], "format": ".1f", "labelOverlap": false, "tickCount": 30}},
  "y": {"field": "y", "type": "quantitative", "scale": {"domain": [0, 770], "nice": false}, "axis": {"title": "intensity", "values": [0,100,200,300,400,500,600,700], "format": "d", "labelOverlap": false, "tickCount": 30}},
  "detail": {"field": "s"},
  "color": {"datum": "Case spectra", "scale": {"domain": ["Case spectra","Control spectra","lrp.z"], "range": ["#1a1a1a","#3047a8","#d582c9"]},
   "legend": {"orient": "top-left", "encoding": {"symbols": {"shape": {"value": {"expr": "datum.value === 'lrp.z' ? 'M-2,-0.7H2V0.7H-2Z' : 'M-2,0H2'"}}, "fill": {"value": {"expr": "datum.value === 'lrp.z' ? '#d582c9' : 'transparent'"}}, "stroke": {"value": {"expr": "datum.value === 'Case spectra' ? '#1a1a1a' : (datum.value === 'Control spectra' ? '#4a5fbd' : 'transparent')"}}, "strokeWidth": {"value": 1.5}, "opacity": {"value": 1}}}}}}},
 {"data": {"name": "c5"}, "transform": [{"filter": "datum.s == 3 && datum.x <= 3152.7"}], "mark": {"type": "area", "opacity": 1}, "encoding": {"x": {"field": "x", "type": "quantitative"}, "y": {"field": "y", "type": "quantitative"}, "y2": {"datum": 0}, "color": {"datum": "Control spectra"}}},
 {"data": {"name": "c5"}, "transform": [{"filter": "datum.s == 5"}], "mark": {"type": "area", "opacity": 1}, "encoding": {"x": {"field": "x", "type": "quantitative"}, "y": {"field": "y", "type": "quantitative"}, "y2": {"datum": 0}, "color": {"datum": "Control spectra"}}},
 {"data": {"name": "c5"}, "mark": {"type": "line", "strokeWidth": 1.5}, "encoding": {"x": {"field": "x", "type": "quantitative"}, "y": {"field": "y", "type": "quantitative"}, "detail": {"field": "s"}, "color": {"datum": "Control spectra"}}},
 {"data": {"name": "b5"}, "mark": {"type": "rect"}, "encoding": {"x": {"field": "x", "type": "quantitative"}, "x2": {"field": "x2"}, "y": {"field": "y", "type": "quantitative"}, "y2": {"datum": 0}, "color": {"datum": "lrp.z"}}}
]}
]
}
